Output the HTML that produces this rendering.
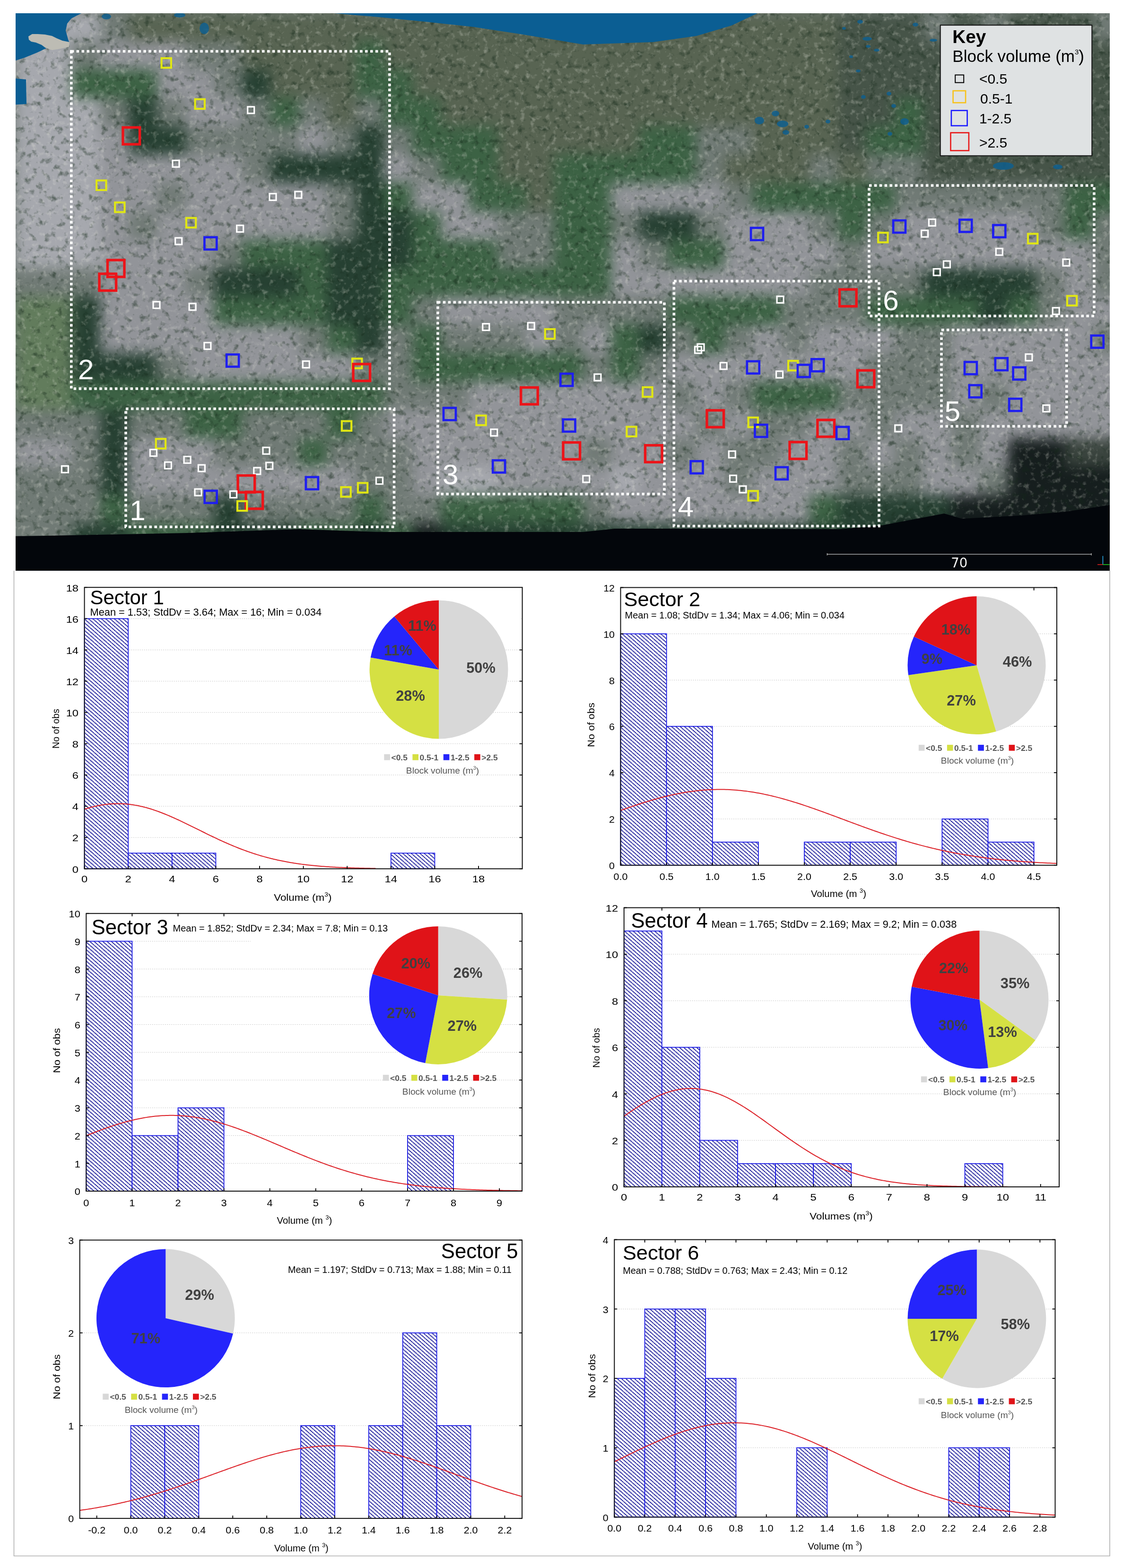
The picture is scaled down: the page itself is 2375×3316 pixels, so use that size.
<!DOCTYPE html>
<html><head><meta charset="utf-8"><title>Rockfall block volume by sector</title>
<style>
html,body{margin:0;padding:0;background:#fff;}
body{width:2375px;height:3316px;overflow:hidden;font-family:"Liberation Sans",Arial,sans-serif;}
svg{display:block;}
</style></head><body>
<svg width="2375" height="3316" viewBox="0 0 2375 3316" font-family="'Liberation Sans', Arial, Helvetica, sans-serif">
<defs>
<pattern id="hatch" patternUnits="userSpaceOnUse" width="9.1" height="8.0">
<path d="M-2.275 -2 L11.375 10 M-2.275 6 L2.275 10 M6.825 -2 L11.375 2" stroke="#00008e" stroke-width="2.0" stroke-dasharray="2.6 0.7"/>
</pattern>
<clipPath id="photoclip"><rect x="33" y="28" width="2314" height="1179"/></clipPath>
<filter id="tblur" x="20" y="15" width="2340" height="1205" filterUnits="userSpaceOnUse" color-interpolation-filters="sRGB">
<feGaussianBlur stdDeviation="14"/>
</filter>
<filter id="tdark" x="33" y="28" width="2314" height="1179" filterUnits="userSpaceOnUse" color-interpolation-filters="sRGB">
<feTurbulence type="fractalNoise" baseFrequency="0.075" numOctaves="3" seed="7"/>
<feColorMatrix type="matrix" values="0 0 0 0 0.08  0 0 0 0 0.16  0 0 0 0 0.1  -3.2 0 0 0 1.45"/>
</filter>
<filter id="tlight" x="33" y="28" width="2314" height="1179" filterUnits="userSpaceOnUse" color-interpolation-filters="sRGB">
<feTurbulence type="fractalNoise" baseFrequency="0.09" numOctaves="3" seed="19"/>
<feColorMatrix type="matrix" values="0 0 0 0 0.92  0 0 0 0 0.92  0 0 0 0 0.88  0 3.2 0 0 -1.75"/>
</filter>
</defs>
<rect x="0" y="0" width="2375" height="3316" fill="#fff"/>
<path d="M29.5 1207 L29.5 3290.5 L2347 3290.5 L2347 1207" fill="none" stroke="#b0b0b0" stroke-width="1.6"/>
<g clip-path="url(#photoclip)">
<rect x="33" y="28" width="2314" height="1179" fill="#707a75"/>
<g filter="url(#tblur)"><rect x="32" y="27" width="62" height="62" fill="#a6a8ae"/><rect x="92" y="27" width="62" height="62" fill="#a6a8ae"/><rect x="152" y="27" width="62" height="62" fill="#a6a8ae"/><rect x="212" y="27" width="62" height="62" fill="#707a75"/><rect x="272" y="27" width="62" height="62" fill="#586452"/><rect x="332" y="27" width="62" height="62" fill="#586452"/><rect x="392" y="27" width="62" height="62" fill="#586452"/><rect x="452" y="27" width="62" height="62" fill="#586452"/><rect x="512" y="27" width="62" height="62" fill="#586452"/><rect x="572" y="27" width="62" height="62" fill="#586452"/><rect x="632" y="27" width="62" height="62" fill="#586452"/><rect x="692" y="27" width="62" height="62" fill="#586452"/><rect x="752" y="27" width="62" height="62" fill="#586452"/><rect x="812" y="27" width="62" height="62" fill="#586452"/><rect x="872" y="27" width="62" height="62" fill="#586452"/><rect x="932" y="27" width="62" height="62" fill="#586452"/><rect x="992" y="27" width="62" height="62" fill="#586452"/><rect x="1052" y="27" width="62" height="62" fill="#586452"/><rect x="1112" y="27" width="62" height="62" fill="#586452"/><rect x="1172" y="27" width="62" height="62" fill="#586452"/><rect x="1232" y="27" width="62" height="62" fill="#586452"/><rect x="1292" y="27" width="62" height="62" fill="#586452"/><rect x="1352" y="27" width="62" height="62" fill="#586452"/><rect x="1412" y="27" width="62" height="62" fill="#586452"/><rect x="1472" y="27" width="62" height="62" fill="#586452"/><rect x="1532" y="27" width="62" height="62" fill="#586452"/><rect x="1592" y="27" width="62" height="62" fill="#586452"/><rect x="1652" y="27" width="62" height="62" fill="#586452"/><rect x="1712" y="27" width="62" height="62" fill="#586452"/><rect x="1772" y="27" width="62" height="62" fill="#465448"/><rect x="1832" y="27" width="62" height="62" fill="#465448"/><rect x="1892" y="27" width="62" height="62" fill="#465448"/><rect x="1952" y="27" width="62" height="62" fill="#707a75"/><rect x="2012" y="27" width="62" height="62" fill="#465448"/><rect x="2072" y="27" width="62" height="62" fill="#707a75"/><rect x="2132" y="27" width="62" height="62" fill="#465448"/><rect x="2192" y="27" width="62" height="62" fill="#465448"/><rect x="2252" y="27" width="62" height="62" fill="#465448"/><rect x="2312" y="27" width="62" height="62" fill="#707a75"/><rect x="32" y="87" width="62" height="62" fill="#a6a8ae"/><rect x="92" y="87" width="62" height="62" fill="#a6a8ae"/><rect x="152" y="87" width="62" height="62" fill="#707a75"/><rect x="212" y="87" width="62" height="62" fill="#929499"/><rect x="272" y="87" width="62" height="62" fill="#929499"/><rect x="332" y="87" width="62" height="62" fill="#929499"/><rect x="392" y="87" width="62" height="62" fill="#707a75"/><rect x="452" y="87" width="62" height="62" fill="#707a75"/><rect x="512" y="87" width="62" height="62" fill="#586452"/><rect x="572" y="87" width="62" height="62" fill="#586452"/><rect x="632" y="87" width="62" height="62" fill="#586452"/><rect x="692" y="87" width="62" height="62" fill="#586452"/><rect x="752" y="87" width="62" height="62" fill="#3c6244"/><rect x="812" y="87" width="62" height="62" fill="#586452"/><rect x="872" y="87" width="62" height="62" fill="#586452"/><rect x="932" y="87" width="62" height="62" fill="#586452"/><rect x="992" y="87" width="62" height="62" fill="#586452"/><rect x="1052" y="87" width="62" height="62" fill="#586452"/><rect x="1112" y="87" width="62" height="62" fill="#586452"/><rect x="1172" y="87" width="62" height="62" fill="#586452"/><rect x="1232" y="87" width="62" height="62" fill="#586452"/><rect x="1292" y="87" width="62" height="62" fill="#586452"/><rect x="1352" y="87" width="62" height="62" fill="#586452"/><rect x="1412" y="87" width="62" height="62" fill="#586452"/><rect x="1472" y="87" width="62" height="62" fill="#586452"/><rect x="1532" y="87" width="62" height="62" fill="#586452"/><rect x="1592" y="87" width="62" height="62" fill="#586452"/><rect x="1652" y="87" width="62" height="62" fill="#586452"/><rect x="1712" y="87" width="62" height="62" fill="#586452"/><rect x="1772" y="87" width="62" height="62" fill="#465448"/><rect x="1832" y="87" width="62" height="62" fill="#465448"/><rect x="1892" y="87" width="62" height="62" fill="#465448"/><rect x="1952" y="87" width="62" height="62" fill="#465448"/><rect x="2012" y="87" width="62" height="62" fill="#465448"/><rect x="2072" y="87" width="62" height="62" fill="#465448"/><rect x="2132" y="87" width="62" height="62" fill="#465448"/><rect x="2192" y="87" width="62" height="62" fill="#465448"/><rect x="2252" y="87" width="62" height="62" fill="#465448"/><rect x="2312" y="87" width="62" height="62" fill="#465448"/><rect x="32" y="147" width="62" height="62" fill="#a6a8ae"/><rect x="92" y="147" width="62" height="62" fill="#a6a8ae"/><rect x="152" y="147" width="62" height="62" fill="#3c6244"/><rect x="212" y="147" width="62" height="62" fill="#3c6244"/><rect x="272" y="147" width="62" height="62" fill="#3c6244"/><rect x="332" y="147" width="62" height="62" fill="#929499"/><rect x="392" y="147" width="62" height="62" fill="#929499"/><rect x="452" y="147" width="62" height="62" fill="#707a75"/><rect x="512" y="147" width="62" height="62" fill="#264032"/><rect x="572" y="147" width="62" height="62" fill="#586452"/><rect x="632" y="147" width="62" height="62" fill="#586452"/><rect x="692" y="147" width="62" height="62" fill="#586452"/><rect x="752" y="147" width="62" height="62" fill="#3c6244"/><rect x="812" y="147" width="62" height="62" fill="#3c6244"/><rect x="872" y="147" width="62" height="62" fill="#586452"/><rect x="932" y="147" width="62" height="62" fill="#586452"/><rect x="992" y="147" width="62" height="62" fill="#586452"/><rect x="1052" y="147" width="62" height="62" fill="#586452"/><rect x="1112" y="147" width="62" height="62" fill="#586452"/><rect x="1172" y="147" width="62" height="62" fill="#586452"/><rect x="1232" y="147" width="62" height="62" fill="#586452"/><rect x="1292" y="147" width="62" height="62" fill="#586452"/><rect x="1352" y="147" width="62" height="62" fill="#586452"/><rect x="1412" y="147" width="62" height="62" fill="#586452"/><rect x="1472" y="147" width="62" height="62" fill="#586452"/><rect x="1532" y="147" width="62" height="62" fill="#586452"/><rect x="1592" y="147" width="62" height="62" fill="#586452"/><rect x="1652" y="147" width="62" height="62" fill="#586452"/><rect x="1712" y="147" width="62" height="62" fill="#586452"/><rect x="1772" y="147" width="62" height="62" fill="#465448"/><rect x="1832" y="147" width="62" height="62" fill="#465448"/><rect x="1892" y="147" width="62" height="62" fill="#465448"/><rect x="1952" y="147" width="62" height="62" fill="#465448"/><rect x="2012" y="147" width="62" height="62" fill="#465448"/><rect x="2072" y="147" width="62" height="62" fill="#465448"/><rect x="2132" y="147" width="62" height="62" fill="#465448"/><rect x="2192" y="147" width="62" height="62" fill="#465448"/><rect x="2252" y="147" width="62" height="62" fill="#465448"/><rect x="2312" y="147" width="62" height="62" fill="#465448"/><rect x="32" y="207" width="62" height="62" fill="#a6a8ae"/><rect x="92" y="207" width="62" height="62" fill="#a6a8ae"/><rect x="152" y="207" width="62" height="62" fill="#a6a8ae"/><rect x="212" y="207" width="62" height="62" fill="#707a75"/><rect x="272" y="207" width="62" height="62" fill="#264032"/><rect x="332" y="207" width="62" height="62" fill="#707a75"/><rect x="392" y="207" width="62" height="62" fill="#929499"/><rect x="452" y="207" width="62" height="62" fill="#929499"/><rect x="512" y="207" width="62" height="62" fill="#707a75"/><rect x="572" y="207" width="62" height="62" fill="#3c6244"/><rect x="632" y="207" width="62" height="62" fill="#707a75"/><rect x="692" y="207" width="62" height="62" fill="#586452"/><rect x="752" y="207" width="62" height="62" fill="#707a75"/><rect x="812" y="207" width="62" height="62" fill="#3c6244"/><rect x="872" y="207" width="62" height="62" fill="#3c6244"/><rect x="932" y="207" width="62" height="62" fill="#586452"/><rect x="992" y="207" width="62" height="62" fill="#586452"/><rect x="1052" y="207" width="62" height="62" fill="#586452"/><rect x="1112" y="207" width="62" height="62" fill="#586452"/><rect x="1172" y="207" width="62" height="62" fill="#586452"/><rect x="1232" y="207" width="62" height="62" fill="#586452"/><rect x="1292" y="207" width="62" height="62" fill="#586452"/><rect x="1352" y="207" width="62" height="62" fill="#586452"/><rect x="1412" y="207" width="62" height="62" fill="#586452"/><rect x="1472" y="207" width="62" height="62" fill="#586452"/><rect x="1532" y="207" width="62" height="62" fill="#586452"/><rect x="1592" y="207" width="62" height="62" fill="#586452"/><rect x="1652" y="207" width="62" height="62" fill="#586452"/><rect x="1712" y="207" width="62" height="62" fill="#586452"/><rect x="1772" y="207" width="62" height="62" fill="#465448"/><rect x="1832" y="207" width="62" height="62" fill="#465448"/><rect x="1892" y="207" width="62" height="62" fill="#3c6244"/><rect x="1952" y="207" width="62" height="62" fill="#465448"/><rect x="2012" y="207" width="62" height="62" fill="#465448"/><rect x="2072" y="207" width="62" height="62" fill="#465448"/><rect x="2132" y="207" width="62" height="62" fill="#465448"/><rect x="2192" y="207" width="62" height="62" fill="#465448"/><rect x="2252" y="207" width="62" height="62" fill="#465448"/><rect x="2312" y="207" width="62" height="62" fill="#465448"/><rect x="32" y="267" width="62" height="62" fill="#a6a8ae"/><rect x="92" y="267" width="62" height="62" fill="#a6a8ae"/><rect x="152" y="267" width="62" height="62" fill="#a6a8ae"/><rect x="212" y="267" width="62" height="62" fill="#929499"/><rect x="272" y="267" width="62" height="62" fill="#264032"/><rect x="332" y="267" width="62" height="62" fill="#264032"/><rect x="392" y="267" width="62" height="62" fill="#707a75"/><rect x="452" y="267" width="62" height="62" fill="#707a75"/><rect x="512" y="267" width="62" height="62" fill="#707a75"/><rect x="572" y="267" width="62" height="62" fill="#707a75"/><rect x="632" y="267" width="62" height="62" fill="#929499"/><rect x="692" y="267" width="62" height="62" fill="#707a75"/><rect x="752" y="267" width="62" height="62" fill="#264032"/><rect x="812" y="267" width="62" height="62" fill="#707a75"/><rect x="872" y="267" width="62" height="62" fill="#3c6244"/><rect x="932" y="267" width="62" height="62" fill="#3c6244"/><rect x="992" y="267" width="62" height="62" fill="#3c6244"/><rect x="1052" y="267" width="62" height="62" fill="#586452"/><rect x="1112" y="267" width="62" height="62" fill="#586452"/><rect x="1172" y="267" width="62" height="62" fill="#586452"/><rect x="1232" y="267" width="62" height="62" fill="#586452"/><rect x="1292" y="267" width="62" height="62" fill="#586452"/><rect x="1352" y="267" width="62" height="62" fill="#3c6244"/><rect x="1412" y="267" width="62" height="62" fill="#3c6244"/><rect x="1472" y="267" width="62" height="62" fill="#707a75"/><rect x="1532" y="267" width="62" height="62" fill="#707a75"/><rect x="1592" y="267" width="62" height="62" fill="#586452"/><rect x="1652" y="267" width="62" height="62" fill="#586452"/><rect x="1712" y="267" width="62" height="62" fill="#586452"/><rect x="1772" y="267" width="62" height="62" fill="#465448"/><rect x="1832" y="267" width="62" height="62" fill="#3c6244"/><rect x="1892" y="267" width="62" height="62" fill="#3c6244"/><rect x="1952" y="267" width="62" height="62" fill="#465448"/><rect x="2012" y="267" width="62" height="62" fill="#465448"/><rect x="2072" y="267" width="62" height="62" fill="#465448"/><rect x="2132" y="267" width="62" height="62" fill="#465448"/><rect x="2192" y="267" width="62" height="62" fill="#465448"/><rect x="2252" y="267" width="62" height="62" fill="#465448"/><rect x="2312" y="267" width="62" height="62" fill="#465448"/><rect x="32" y="327" width="62" height="62" fill="#a6a8ae"/><rect x="92" y="327" width="62" height="62" fill="#a6a8ae"/><rect x="152" y="327" width="62" height="62" fill="#a6a8ae"/><rect x="212" y="327" width="62" height="62" fill="#929499"/><rect x="272" y="327" width="62" height="62" fill="#929499"/><rect x="332" y="327" width="62" height="62" fill="#929499"/><rect x="392" y="327" width="62" height="62" fill="#929499"/><rect x="452" y="327" width="62" height="62" fill="#929499"/><rect x="512" y="327" width="62" height="62" fill="#707a75"/><rect x="572" y="327" width="62" height="62" fill="#264032"/><rect x="632" y="327" width="62" height="62" fill="#264032"/><rect x="692" y="327" width="62" height="62" fill="#264032"/><rect x="752" y="327" width="62" height="62" fill="#264032"/><rect x="812" y="327" width="62" height="62" fill="#929499"/><rect x="872" y="327" width="62" height="62" fill="#707a75"/><rect x="932" y="327" width="62" height="62" fill="#3c6244"/><rect x="992" y="327" width="62" height="62" fill="#3c6244"/><rect x="1052" y="327" width="62" height="62" fill="#586452"/><rect x="1112" y="327" width="62" height="62" fill="#586452"/><rect x="1172" y="327" width="62" height="62" fill="#3c6244"/><rect x="1232" y="327" width="62" height="62" fill="#3c6244"/><rect x="1292" y="327" width="62" height="62" fill="#3c6244"/><rect x="1352" y="327" width="62" height="62" fill="#3c6244"/><rect x="1412" y="327" width="62" height="62" fill="#3c6244"/><rect x="1472" y="327" width="62" height="62" fill="#707a75"/><rect x="1532" y="327" width="62" height="62" fill="#586452"/><rect x="1592" y="327" width="62" height="62" fill="#586452"/><rect x="1652" y="327" width="62" height="62" fill="#586452"/><rect x="1712" y="327" width="62" height="62" fill="#707a75"/><rect x="1772" y="327" width="62" height="62" fill="#586452"/><rect x="1832" y="327" width="62" height="62" fill="#707a75"/><rect x="1892" y="327" width="62" height="62" fill="#707a75"/><rect x="1952" y="327" width="62" height="62" fill="#465448"/><rect x="2012" y="327" width="62" height="62" fill="#465448"/><rect x="2072" y="327" width="62" height="62" fill="#465448"/><rect x="2132" y="327" width="62" height="62" fill="#465448"/><rect x="2192" y="327" width="62" height="62" fill="#465448"/><rect x="2252" y="327" width="62" height="62" fill="#465448"/><rect x="2312" y="327" width="62" height="62" fill="#465448"/><rect x="32" y="387" width="62" height="62" fill="#a6a8ae"/><rect x="92" y="387" width="62" height="62" fill="#a6a8ae"/><rect x="152" y="387" width="62" height="62" fill="#a6a8ae"/><rect x="212" y="387" width="62" height="62" fill="#929499"/><rect x="272" y="387" width="62" height="62" fill="#929499"/><rect x="332" y="387" width="62" height="62" fill="#707a75"/><rect x="392" y="387" width="62" height="62" fill="#929499"/><rect x="452" y="387" width="62" height="62" fill="#929499"/><rect x="512" y="387" width="62" height="62" fill="#929499"/><rect x="572" y="387" width="62" height="62" fill="#929499"/><rect x="632" y="387" width="62" height="62" fill="#929499"/><rect x="692" y="387" width="62" height="62" fill="#707a75"/><rect x="752" y="387" width="62" height="62" fill="#264032"/><rect x="812" y="387" width="62" height="62" fill="#3c6244"/><rect x="872" y="387" width="62" height="62" fill="#929499"/><rect x="932" y="387" width="62" height="62" fill="#929499"/><rect x="992" y="387" width="62" height="62" fill="#3c6244"/><rect x="1052" y="387" width="62" height="62" fill="#3c6244"/><rect x="1112" y="387" width="62" height="62" fill="#586452"/><rect x="1172" y="387" width="62" height="62" fill="#3c6244"/><rect x="1232" y="387" width="62" height="62" fill="#3c6244"/><rect x="1292" y="387" width="62" height="62" fill="#929499"/><rect x="1352" y="387" width="62" height="62" fill="#929499"/><rect x="1412" y="387" width="62" height="62" fill="#929499"/><rect x="1472" y="387" width="62" height="62" fill="#929499"/><rect x="1532" y="387" width="62" height="62" fill="#707a75"/><rect x="1592" y="387" width="62" height="62" fill="#3c6244"/><rect x="1652" y="387" width="62" height="62" fill="#3c6244"/><rect x="1712" y="387" width="62" height="62" fill="#3c6244"/><rect x="1772" y="387" width="62" height="62" fill="#3c6244"/><rect x="1832" y="387" width="62" height="62" fill="#3c6244"/><rect x="1892" y="387" width="62" height="62" fill="#707a75"/><rect x="1952" y="387" width="62" height="62" fill="#707a75"/><rect x="2012" y="387" width="62" height="62" fill="#707a75"/><rect x="2072" y="387" width="62" height="62" fill="#707a75"/><rect x="2132" y="387" width="62" height="62" fill="#707a75"/><rect x="2192" y="387" width="62" height="62" fill="#707a75"/><rect x="2252" y="387" width="62" height="62" fill="#3c6244"/><rect x="2312" y="387" width="62" height="62" fill="#3c6244"/><rect x="32" y="447" width="62" height="62" fill="#a6a8ae"/><rect x="92" y="447" width="62" height="62" fill="#a6a8ae"/><rect x="152" y="447" width="62" height="62" fill="#a6a8ae"/><rect x="212" y="447" width="62" height="62" fill="#929499"/><rect x="272" y="447" width="62" height="62" fill="#707a75"/><rect x="332" y="447" width="62" height="62" fill="#929499"/><rect x="392" y="447" width="62" height="62" fill="#929499"/><rect x="452" y="447" width="62" height="62" fill="#929499"/><rect x="512" y="447" width="62" height="62" fill="#929499"/><rect x="572" y="447" width="62" height="62" fill="#929499"/><rect x="632" y="447" width="62" height="62" fill="#929499"/><rect x="692" y="447" width="62" height="62" fill="#707a75"/><rect x="752" y="447" width="62" height="62" fill="#264032"/><rect x="812" y="447" width="62" height="62" fill="#264032"/><rect x="872" y="447" width="62" height="62" fill="#3c6244"/><rect x="932" y="447" width="62" height="62" fill="#929499"/><rect x="992" y="447" width="62" height="62" fill="#929499"/><rect x="1052" y="447" width="62" height="62" fill="#707a75"/><rect x="1112" y="447" width="62" height="62" fill="#707a75"/><rect x="1172" y="447" width="62" height="62" fill="#3c6244"/><rect x="1232" y="447" width="62" height="62" fill="#3c6244"/><rect x="1292" y="447" width="62" height="62" fill="#707a75"/><rect x="1352" y="447" width="62" height="62" fill="#264032"/><rect x="1412" y="447" width="62" height="62" fill="#264032"/><rect x="1472" y="447" width="62" height="62" fill="#707a75"/><rect x="1532" y="447" width="62" height="62" fill="#929499"/><rect x="1592" y="447" width="62" height="62" fill="#929499"/><rect x="1652" y="447" width="62" height="62" fill="#929499"/><rect x="1712" y="447" width="62" height="62" fill="#707a75"/><rect x="1772" y="447" width="62" height="62" fill="#3c6244"/><rect x="1832" y="447" width="62" height="62" fill="#707a75"/><rect x="1892" y="447" width="62" height="62" fill="#929499"/><rect x="1952" y="447" width="62" height="62" fill="#929499"/><rect x="2012" y="447" width="62" height="62" fill="#929499"/><rect x="2072" y="447" width="62" height="62" fill="#929499"/><rect x="2132" y="447" width="62" height="62" fill="#929499"/><rect x="2192" y="447" width="62" height="62" fill="#707a75"/><rect x="2252" y="447" width="62" height="62" fill="#3c6244"/><rect x="2312" y="447" width="62" height="62" fill="#707a75"/><rect x="32" y="507" width="62" height="62" fill="#a6a8ae"/><rect x="92" y="507" width="62" height="62" fill="#a6a8ae"/><rect x="152" y="507" width="62" height="62" fill="#a6a8ae"/><rect x="212" y="507" width="62" height="62" fill="#929499"/><rect x="272" y="507" width="62" height="62" fill="#929499"/><rect x="332" y="507" width="62" height="62" fill="#929499"/><rect x="392" y="507" width="62" height="62" fill="#929499"/><rect x="452" y="507" width="62" height="62" fill="#707a75"/><rect x="512" y="507" width="62" height="62" fill="#3c6244"/><rect x="572" y="507" width="62" height="62" fill="#3c6244"/><rect x="632" y="507" width="62" height="62" fill="#3c6244"/><rect x="692" y="507" width="62" height="62" fill="#264032"/><rect x="752" y="507" width="62" height="62" fill="#264032"/><rect x="812" y="507" width="62" height="62" fill="#264032"/><rect x="872" y="507" width="62" height="62" fill="#3c6244"/><rect x="932" y="507" width="62" height="62" fill="#3c6244"/><rect x="992" y="507" width="62" height="62" fill="#3c6244"/><rect x="1052" y="507" width="62" height="62" fill="#707a75"/><rect x="1112" y="507" width="62" height="62" fill="#707a75"/><rect x="1172" y="507" width="62" height="62" fill="#3c6244"/><rect x="1232" y="507" width="62" height="62" fill="#3c6244"/><rect x="1292" y="507" width="62" height="62" fill="#929499"/><rect x="1352" y="507" width="62" height="62" fill="#707a75"/><rect x="1412" y="507" width="62" height="62" fill="#3c6244"/><rect x="1472" y="507" width="62" height="62" fill="#3c6244"/><rect x="1532" y="507" width="62" height="62" fill="#929499"/><rect x="1592" y="507" width="62" height="62" fill="#929499"/><rect x="1652" y="507" width="62" height="62" fill="#929499"/><rect x="1712" y="507" width="62" height="62" fill="#929499"/><rect x="1772" y="507" width="62" height="62" fill="#707a75"/><rect x="1832" y="507" width="62" height="62" fill="#929499"/><rect x="1892" y="507" width="62" height="62" fill="#929499"/><rect x="1952" y="507" width="62" height="62" fill="#929499"/><rect x="2012" y="507" width="62" height="62" fill="#929499"/><rect x="2072" y="507" width="62" height="62" fill="#929499"/><rect x="2132" y="507" width="62" height="62" fill="#929499"/><rect x="2192" y="507" width="62" height="62" fill="#929499"/><rect x="2252" y="507" width="62" height="62" fill="#929499"/><rect x="2312" y="507" width="62" height="62" fill="#707a75"/><rect x="32" y="567" width="62" height="62" fill="#707a75"/><rect x="92" y="567" width="62" height="62" fill="#707a75"/><rect x="152" y="567" width="62" height="62" fill="#707a75"/><rect x="212" y="567" width="62" height="62" fill="#929499"/><rect x="272" y="567" width="62" height="62" fill="#929499"/><rect x="332" y="567" width="62" height="62" fill="#929499"/><rect x="392" y="567" width="62" height="62" fill="#707a75"/><rect x="452" y="567" width="62" height="62" fill="#264032"/><rect x="512" y="567" width="62" height="62" fill="#264032"/><rect x="572" y="567" width="62" height="62" fill="#264032"/><rect x="632" y="567" width="62" height="62" fill="#3c6244"/><rect x="692" y="567" width="62" height="62" fill="#264032"/><rect x="752" y="567" width="62" height="62" fill="#264032"/><rect x="812" y="567" width="62" height="62" fill="#3c6244"/><rect x="872" y="567" width="62" height="62" fill="#3c6244"/><rect x="932" y="567" width="62" height="62" fill="#3c6244"/><rect x="992" y="567" width="62" height="62" fill="#3c6244"/><rect x="1052" y="567" width="62" height="62" fill="#3c6244"/><rect x="1112" y="567" width="62" height="62" fill="#3c6244"/><rect x="1172" y="567" width="62" height="62" fill="#3c6244"/><rect x="1232" y="567" width="62" height="62" fill="#3c6244"/><rect x="1292" y="567" width="62" height="62" fill="#929499"/><rect x="1352" y="567" width="62" height="62" fill="#929499"/><rect x="1412" y="567" width="62" height="62" fill="#929499"/><rect x="1472" y="567" width="62" height="62" fill="#929499"/><rect x="1532" y="567" width="62" height="62" fill="#929499"/><rect x="1592" y="567" width="62" height="62" fill="#929499"/><rect x="1652" y="567" width="62" height="62" fill="#929499"/><rect x="1712" y="567" width="62" height="62" fill="#707a75"/><rect x="1772" y="567" width="62" height="62" fill="#707a75"/><rect x="1832" y="567" width="62" height="62" fill="#707a75"/><rect x="1892" y="567" width="62" height="62" fill="#707a75"/><rect x="1952" y="567" width="62" height="62" fill="#264032"/><rect x="2012" y="567" width="62" height="62" fill="#264032"/><rect x="2072" y="567" width="62" height="62" fill="#264032"/><rect x="2132" y="567" width="62" height="62" fill="#264032"/><rect x="2192" y="567" width="62" height="62" fill="#707a75"/><rect x="2252" y="567" width="62" height="62" fill="#929499"/><rect x="2312" y="567" width="62" height="62" fill="#707a75"/><rect x="32" y="627" width="62" height="62" fill="#627c5c"/><rect x="92" y="627" width="62" height="62" fill="#627c5c"/><rect x="152" y="627" width="62" height="62" fill="#264032"/><rect x="212" y="627" width="62" height="62" fill="#929499"/><rect x="272" y="627" width="62" height="62" fill="#929499"/><rect x="332" y="627" width="62" height="62" fill="#929499"/><rect x="392" y="627" width="62" height="62" fill="#929499"/><rect x="452" y="627" width="62" height="62" fill="#3c6244"/><rect x="512" y="627" width="62" height="62" fill="#3c6244"/><rect x="572" y="627" width="62" height="62" fill="#3c6244"/><rect x="632" y="627" width="62" height="62" fill="#3c6244"/><rect x="692" y="627" width="62" height="62" fill="#264032"/><rect x="752" y="627" width="62" height="62" fill="#264032"/><rect x="812" y="627" width="62" height="62" fill="#3c6244"/><rect x="872" y="627" width="62" height="62" fill="#707a75"/><rect x="932" y="627" width="62" height="62" fill="#929499"/><rect x="992" y="627" width="62" height="62" fill="#929499"/><rect x="1052" y="627" width="62" height="62" fill="#929499"/><rect x="1112" y="627" width="62" height="62" fill="#929499"/><rect x="1172" y="627" width="62" height="62" fill="#707a75"/><rect x="1232" y="627" width="62" height="62" fill="#707a75"/><rect x="1292" y="627" width="62" height="62" fill="#707a75"/><rect x="1352" y="627" width="62" height="62" fill="#707a75"/><rect x="1412" y="627" width="62" height="62" fill="#3c6244"/><rect x="1472" y="627" width="62" height="62" fill="#3c6244"/><rect x="1532" y="627" width="62" height="62" fill="#3c6244"/><rect x="1592" y="627" width="62" height="62" fill="#3c6244"/><rect x="1652" y="627" width="62" height="62" fill="#707a75"/><rect x="1712" y="627" width="62" height="62" fill="#707a75"/><rect x="1772" y="627" width="62" height="62" fill="#707a75"/><rect x="1832" y="627" width="62" height="62" fill="#3c6244"/><rect x="1892" y="627" width="62" height="62" fill="#3c6244"/><rect x="1952" y="627" width="62" height="62" fill="#3c6244"/><rect x="2012" y="627" width="62" height="62" fill="#3c6244"/><rect x="2072" y="627" width="62" height="62" fill="#264032"/><rect x="2132" y="627" width="62" height="62" fill="#3c6244"/><rect x="2192" y="627" width="62" height="62" fill="#707a75"/><rect x="2252" y="627" width="62" height="62" fill="#929499"/><rect x="2312" y="627" width="62" height="62" fill="#929499"/><rect x="32" y="687" width="62" height="62" fill="#627c5c"/><rect x="92" y="687" width="62" height="62" fill="#627c5c"/><rect x="152" y="687" width="62" height="62" fill="#264032"/><rect x="212" y="687" width="62" height="62" fill="#929499"/><rect x="272" y="687" width="62" height="62" fill="#929499"/><rect x="332" y="687" width="62" height="62" fill="#929499"/><rect x="392" y="687" width="62" height="62" fill="#929499"/><rect x="452" y="687" width="62" height="62" fill="#929499"/><rect x="512" y="687" width="62" height="62" fill="#929499"/><rect x="572" y="687" width="62" height="62" fill="#929499"/><rect x="632" y="687" width="62" height="62" fill="#707a75"/><rect x="692" y="687" width="62" height="62" fill="#3c6244"/><rect x="752" y="687" width="62" height="62" fill="#264032"/><rect x="812" y="687" width="62" height="62" fill="#707a75"/><rect x="872" y="687" width="62" height="62" fill="#3c6244"/><rect x="932" y="687" width="62" height="62" fill="#707a75"/><rect x="992" y="687" width="62" height="62" fill="#707a75"/><rect x="1052" y="687" width="62" height="62" fill="#707a75"/><rect x="1112" y="687" width="62" height="62" fill="#929499"/><rect x="1172" y="687" width="62" height="62" fill="#707a75"/><rect x="1232" y="687" width="62" height="62" fill="#929499"/><rect x="1292" y="687" width="62" height="62" fill="#3c6244"/><rect x="1352" y="687" width="62" height="62" fill="#264032"/><rect x="1412" y="687" width="62" height="62" fill="#707a75"/><rect x="1472" y="687" width="62" height="62" fill="#3c6244"/><rect x="1532" y="687" width="62" height="62" fill="#707a75"/><rect x="1592" y="687" width="62" height="62" fill="#929499"/><rect x="1652" y="687" width="62" height="62" fill="#707a75"/><rect x="1712" y="687" width="62" height="62" fill="#929499"/><rect x="1772" y="687" width="62" height="62" fill="#929499"/><rect x="1832" y="687" width="62" height="62" fill="#929499"/><rect x="1892" y="687" width="62" height="62" fill="#707a75"/><rect x="1952" y="687" width="62" height="62" fill="#707a75"/><rect x="2012" y="687" width="62" height="62" fill="#929499"/><rect x="2072" y="687" width="62" height="62" fill="#929499"/><rect x="2132" y="687" width="62" height="62" fill="#929499"/><rect x="2192" y="687" width="62" height="62" fill="#929499"/><rect x="2252" y="687" width="62" height="62" fill="#929499"/><rect x="2312" y="687" width="62" height="62" fill="#707a75"/><rect x="32" y="747" width="62" height="62" fill="#627c5c"/><rect x="92" y="747" width="62" height="62" fill="#627c5c"/><rect x="152" y="747" width="62" height="62" fill="#264032"/><rect x="212" y="747" width="62" height="62" fill="#264032"/><rect x="272" y="747" width="62" height="62" fill="#264032"/><rect x="332" y="747" width="62" height="62" fill="#707a75"/><rect x="392" y="747" width="62" height="62" fill="#929499"/><rect x="452" y="747" width="62" height="62" fill="#929499"/><rect x="512" y="747" width="62" height="62" fill="#929499"/><rect x="572" y="747" width="62" height="62" fill="#929499"/><rect x="632" y="747" width="62" height="62" fill="#929499"/><rect x="692" y="747" width="62" height="62" fill="#929499"/><rect x="752" y="747" width="62" height="62" fill="#707a75"/><rect x="812" y="747" width="62" height="62" fill="#707a75"/><rect x="872" y="747" width="62" height="62" fill="#3c6244"/><rect x="932" y="747" width="62" height="62" fill="#3c6244"/><rect x="992" y="747" width="62" height="62" fill="#3c6244"/><rect x="1052" y="747" width="62" height="62" fill="#3c6244"/><rect x="1112" y="747" width="62" height="62" fill="#3c6244"/><rect x="1172" y="747" width="62" height="62" fill="#3c6244"/><rect x="1232" y="747" width="62" height="62" fill="#707a75"/><rect x="1292" y="747" width="62" height="62" fill="#3c6244"/><rect x="1352" y="747" width="62" height="62" fill="#707a75"/><rect x="1412" y="747" width="62" height="62" fill="#929499"/><rect x="1472" y="747" width="62" height="62" fill="#929499"/><rect x="1532" y="747" width="62" height="62" fill="#929499"/><rect x="1592" y="747" width="62" height="62" fill="#929499"/><rect x="1652" y="747" width="62" height="62" fill="#929499"/><rect x="1712" y="747" width="62" height="62" fill="#929499"/><rect x="1772" y="747" width="62" height="62" fill="#929499"/><rect x="1832" y="747" width="62" height="62" fill="#707a75"/><rect x="1892" y="747" width="62" height="62" fill="#707a75"/><rect x="1952" y="747" width="62" height="62" fill="#707a75"/><rect x="2012" y="747" width="62" height="62" fill="#929499"/><rect x="2072" y="747" width="62" height="62" fill="#929499"/><rect x="2132" y="747" width="62" height="62" fill="#929499"/><rect x="2192" y="747" width="62" height="62" fill="#929499"/><rect x="2252" y="747" width="62" height="62" fill="#929499"/><rect x="2312" y="747" width="62" height="62" fill="#929499"/><rect x="32" y="807" width="62" height="62" fill="#627c5c"/><rect x="92" y="807" width="62" height="62" fill="#627c5c"/><rect x="152" y="807" width="62" height="62" fill="#3c6244"/><rect x="212" y="807" width="62" height="62" fill="#3c6244"/><rect x="272" y="807" width="62" height="62" fill="#3c6244"/><rect x="332" y="807" width="62" height="62" fill="#3c6244"/><rect x="392" y="807" width="62" height="62" fill="#3c6244"/><rect x="452" y="807" width="62" height="62" fill="#3c6244"/><rect x="512" y="807" width="62" height="62" fill="#3c6244"/><rect x="572" y="807" width="62" height="62" fill="#3c6244"/><rect x="632" y="807" width="62" height="62" fill="#3c6244"/><rect x="692" y="807" width="62" height="62" fill="#3c6244"/><rect x="752" y="807" width="62" height="62" fill="#3c6244"/><rect x="812" y="807" width="62" height="62" fill="#707a75"/><rect x="872" y="807" width="62" height="62" fill="#707a75"/><rect x="932" y="807" width="62" height="62" fill="#707a75"/><rect x="992" y="807" width="62" height="62" fill="#929499"/><rect x="1052" y="807" width="62" height="62" fill="#929499"/><rect x="1112" y="807" width="62" height="62" fill="#929499"/><rect x="1172" y="807" width="62" height="62" fill="#929499"/><rect x="1232" y="807" width="62" height="62" fill="#929499"/><rect x="1292" y="807" width="62" height="62" fill="#929499"/><rect x="1352" y="807" width="62" height="62" fill="#929499"/><rect x="1412" y="807" width="62" height="62" fill="#707a75"/><rect x="1472" y="807" width="62" height="62" fill="#929499"/><rect x="1532" y="807" width="62" height="62" fill="#707a75"/><rect x="1592" y="807" width="62" height="62" fill="#3c6244"/><rect x="1652" y="807" width="62" height="62" fill="#3c6244"/><rect x="1712" y="807" width="62" height="62" fill="#3c6244"/><rect x="1772" y="807" width="62" height="62" fill="#707a75"/><rect x="1832" y="807" width="62" height="62" fill="#707a75"/><rect x="1892" y="807" width="62" height="62" fill="#707a75"/><rect x="1952" y="807" width="62" height="62" fill="#707a75"/><rect x="2012" y="807" width="62" height="62" fill="#929499"/><rect x="2072" y="807" width="62" height="62" fill="#707a75"/><rect x="2132" y="807" width="62" height="62" fill="#929499"/><rect x="2192" y="807" width="62" height="62" fill="#929499"/><rect x="2252" y="807" width="62" height="62" fill="#929499"/><rect x="2312" y="807" width="62" height="62" fill="#929499"/><rect x="32" y="867" width="62" height="62" fill="#707a75"/><rect x="92" y="867" width="62" height="62" fill="#707a75"/><rect x="152" y="867" width="62" height="62" fill="#707a75"/><rect x="212" y="867" width="62" height="62" fill="#264032"/><rect x="272" y="867" width="62" height="62" fill="#707a75"/><rect x="332" y="867" width="62" height="62" fill="#707a75"/><rect x="392" y="867" width="62" height="62" fill="#3c6244"/><rect x="452" y="867" width="62" height="62" fill="#3c6244"/><rect x="512" y="867" width="62" height="62" fill="#707a75"/><rect x="572" y="867" width="62" height="62" fill="#707a75"/><rect x="632" y="867" width="62" height="62" fill="#707a75"/><rect x="692" y="867" width="62" height="62" fill="#3c6244"/><rect x="752" y="867" width="62" height="62" fill="#707a75"/><rect x="812" y="867" width="62" height="62" fill="#929499"/><rect x="872" y="867" width="62" height="62" fill="#929499"/><rect x="932" y="867" width="62" height="62" fill="#929499"/><rect x="992" y="867" width="62" height="62" fill="#929499"/><rect x="1052" y="867" width="62" height="62" fill="#929499"/><rect x="1112" y="867" width="62" height="62" fill="#929499"/><rect x="1172" y="867" width="62" height="62" fill="#929499"/><rect x="1232" y="867" width="62" height="62" fill="#929499"/><rect x="1292" y="867" width="62" height="62" fill="#929499"/><rect x="1352" y="867" width="62" height="62" fill="#929499"/><rect x="1412" y="867" width="62" height="62" fill="#929499"/><rect x="1472" y="867" width="62" height="62" fill="#707a75"/><rect x="1532" y="867" width="62" height="62" fill="#929499"/><rect x="1592" y="867" width="62" height="62" fill="#707a75"/><rect x="1652" y="867" width="62" height="62" fill="#707a75"/><rect x="1712" y="867" width="62" height="62" fill="#929499"/><rect x="1772" y="867" width="62" height="62" fill="#929499"/><rect x="1832" y="867" width="62" height="62" fill="#707a75"/><rect x="1892" y="867" width="62" height="62" fill="#929499"/><rect x="1952" y="867" width="62" height="62" fill="#929499"/><rect x="2012" y="867" width="62" height="62" fill="#707a75"/><rect x="2072" y="867" width="62" height="62" fill="#929499"/><rect x="2132" y="867" width="62" height="62" fill="#929499"/><rect x="2192" y="867" width="62" height="62" fill="#929499"/><rect x="2252" y="867" width="62" height="62" fill="#929499"/><rect x="2312" y="867" width="62" height="62" fill="#929499"/><rect x="32" y="927" width="62" height="62" fill="#929499"/><rect x="92" y="927" width="62" height="62" fill="#929499"/><rect x="152" y="927" width="62" height="62" fill="#707a75"/><rect x="212" y="927" width="62" height="62" fill="#264032"/><rect x="272" y="927" width="62" height="62" fill="#929499"/><rect x="332" y="927" width="62" height="62" fill="#929499"/><rect x="392" y="927" width="62" height="62" fill="#929499"/><rect x="452" y="927" width="62" height="62" fill="#707a75"/><rect x="512" y="927" width="62" height="62" fill="#707a75"/><rect x="572" y="927" width="62" height="62" fill="#707a75"/><rect x="632" y="927" width="62" height="62" fill="#3c6244"/><rect x="692" y="927" width="62" height="62" fill="#707a75"/><rect x="752" y="927" width="62" height="62" fill="#707a75"/><rect x="812" y="927" width="62" height="62" fill="#707a75"/><rect x="872" y="927" width="62" height="62" fill="#929499"/><rect x="932" y="927" width="62" height="62" fill="#929499"/><rect x="992" y="927" width="62" height="62" fill="#929499"/><rect x="1052" y="927" width="62" height="62" fill="#929499"/><rect x="1112" y="927" width="62" height="62" fill="#929499"/><rect x="1172" y="927" width="62" height="62" fill="#929499"/><rect x="1232" y="927" width="62" height="62" fill="#707a75"/><rect x="1292" y="927" width="62" height="62" fill="#929499"/><rect x="1352" y="927" width="62" height="62" fill="#929499"/><rect x="1412" y="927" width="62" height="62" fill="#707a75"/><rect x="1472" y="927" width="62" height="62" fill="#929499"/><rect x="1532" y="927" width="62" height="62" fill="#707a75"/><rect x="1592" y="927" width="62" height="62" fill="#707a75"/><rect x="1652" y="927" width="62" height="62" fill="#929499"/><rect x="1712" y="927" width="62" height="62" fill="#929499"/><rect x="1772" y="927" width="62" height="62" fill="#707a75"/><rect x="1832" y="927" width="62" height="62" fill="#929499"/><rect x="1892" y="927" width="62" height="62" fill="#707a75"/><rect x="1952" y="927" width="62" height="62" fill="#929499"/><rect x="2012" y="927" width="62" height="62" fill="#707a75"/><rect x="2072" y="927" width="62" height="62" fill="#929499"/><rect x="2132" y="927" width="62" height="62" fill="#161e1e"/><rect x="2192" y="927" width="62" height="62" fill="#161e1e"/><rect x="2252" y="927" width="62" height="62" fill="#3a443e"/><rect x="2312" y="927" width="62" height="62" fill="#3a443e"/><rect x="32" y="987" width="62" height="62" fill="#707a75"/><rect x="92" y="987" width="62" height="62" fill="#707a75"/><rect x="152" y="987" width="62" height="62" fill="#707a75"/><rect x="212" y="987" width="62" height="62" fill="#264032"/><rect x="272" y="987" width="62" height="62" fill="#929499"/><rect x="332" y="987" width="62" height="62" fill="#929499"/><rect x="392" y="987" width="62" height="62" fill="#929499"/><rect x="452" y="987" width="62" height="62" fill="#929499"/><rect x="512" y="987" width="62" height="62" fill="#929499"/><rect x="572" y="987" width="62" height="62" fill="#929499"/><rect x="632" y="987" width="62" height="62" fill="#929499"/><rect x="692" y="987" width="62" height="62" fill="#929499"/><rect x="752" y="987" width="62" height="62" fill="#707a75"/><rect x="812" y="987" width="62" height="62" fill="#707a75"/><rect x="872" y="987" width="62" height="62" fill="#929499"/><rect x="932" y="987" width="62" height="62" fill="#a6a8ae"/><rect x="992" y="987" width="62" height="62" fill="#a6a8ae"/><rect x="1052" y="987" width="62" height="62" fill="#929499"/><rect x="1112" y="987" width="62" height="62" fill="#929499"/><rect x="1172" y="987" width="62" height="62" fill="#929499"/><rect x="1232" y="987" width="62" height="62" fill="#929499"/><rect x="1292" y="987" width="62" height="62" fill="#a6a8ae"/><rect x="1352" y="987" width="62" height="62" fill="#929499"/><rect x="1412" y="987" width="62" height="62" fill="#929499"/><rect x="1472" y="987" width="62" height="62" fill="#929499"/><rect x="1532" y="987" width="62" height="62" fill="#707a75"/><rect x="1592" y="987" width="62" height="62" fill="#929499"/><rect x="1652" y="987" width="62" height="62" fill="#929499"/><rect x="1712" y="987" width="62" height="62" fill="#929499"/><rect x="1772" y="987" width="62" height="62" fill="#707a75"/><rect x="1832" y="987" width="62" height="62" fill="#707a75"/><rect x="1892" y="987" width="62" height="62" fill="#707a75"/><rect x="1952" y="987" width="62" height="62" fill="#929499"/><rect x="2012" y="987" width="62" height="62" fill="#929499"/><rect x="2072" y="987" width="62" height="62" fill="#707a75"/><rect x="2132" y="987" width="62" height="62" fill="#161e1e"/><rect x="2192" y="987" width="62" height="62" fill="#161e1e"/><rect x="2252" y="987" width="62" height="62" fill="#161e1e"/><rect x="2312" y="987" width="62" height="62" fill="#161e1e"/><rect x="32" y="1047" width="62" height="62" fill="#707a75"/><rect x="92" y="1047" width="62" height="62" fill="#707a75"/><rect x="152" y="1047" width="62" height="62" fill="#707a75"/><rect x="212" y="1047" width="62" height="62" fill="#3c6244"/><rect x="272" y="1047" width="62" height="62" fill="#707a75"/><rect x="332" y="1047" width="62" height="62" fill="#707a75"/><rect x="392" y="1047" width="62" height="62" fill="#707a75"/><rect x="452" y="1047" width="62" height="62" fill="#264032"/><rect x="512" y="1047" width="62" height="62" fill="#707a75"/><rect x="572" y="1047" width="62" height="62" fill="#707a75"/><rect x="632" y="1047" width="62" height="62" fill="#707a75"/><rect x="692" y="1047" width="62" height="62" fill="#707a75"/><rect x="752" y="1047" width="62" height="62" fill="#3c6244"/><rect x="812" y="1047" width="62" height="62" fill="#707a75"/><rect x="872" y="1047" width="62" height="62" fill="#707a75"/><rect x="932" y="1047" width="62" height="62" fill="#3c6244"/><rect x="992" y="1047" width="62" height="62" fill="#3c6244"/><rect x="1052" y="1047" width="62" height="62" fill="#3c6244"/><rect x="1112" y="1047" width="62" height="62" fill="#3c6244"/><rect x="1172" y="1047" width="62" height="62" fill="#3c6244"/><rect x="1232" y="1047" width="62" height="62" fill="#707a75"/><rect x="1292" y="1047" width="62" height="62" fill="#929499"/><rect x="1352" y="1047" width="62" height="62" fill="#929499"/><rect x="1412" y="1047" width="62" height="62" fill="#929499"/><rect x="1472" y="1047" width="62" height="62" fill="#929499"/><rect x="1532" y="1047" width="62" height="62" fill="#929499"/><rect x="1592" y="1047" width="62" height="62" fill="#929499"/><rect x="1652" y="1047" width="62" height="62" fill="#929499"/><rect x="1712" y="1047" width="62" height="62" fill="#3c6244"/><rect x="1772" y="1047" width="62" height="62" fill="#264032"/><rect x="1832" y="1047" width="62" height="62" fill="#264032"/><rect x="1892" y="1047" width="62" height="62" fill="#264032"/><rect x="1952" y="1047" width="62" height="62" fill="#264032"/><rect x="2012" y="1047" width="62" height="62" fill="#161e1e"/><rect x="2072" y="1047" width="62" height="62" fill="#161e1e"/><rect x="2132" y="1047" width="62" height="62" fill="#161e1e"/><rect x="2192" y="1047" width="62" height="62" fill="#161e1e"/><rect x="2252" y="1047" width="62" height="62" fill="#161e1e"/><rect x="2312" y="1047" width="62" height="62" fill="#161e1e"/><rect x="32" y="1107" width="62" height="62" fill="#707a75"/><rect x="92" y="1107" width="62" height="62" fill="#707a75"/><rect x="152" y="1107" width="62" height="62" fill="#264032"/><rect x="212" y="1107" width="62" height="62" fill="#264032"/><rect x="272" y="1107" width="62" height="62" fill="#3c6244"/><rect x="332" y="1107" width="62" height="62" fill="#3c6244"/><rect x="392" y="1107" width="62" height="62" fill="#3c6244"/><rect x="452" y="1107" width="62" height="62" fill="#264032"/><rect x="512" y="1107" width="62" height="62" fill="#264032"/><rect x="572" y="1107" width="62" height="62" fill="#264032"/><rect x="632" y="1107" width="62" height="62" fill="#3c6244"/><rect x="692" y="1107" width="62" height="62" fill="#3c6244"/><rect x="752" y="1107" width="62" height="62" fill="#264032"/><rect x="812" y="1107" width="62" height="62" fill="#3c6244"/><rect x="872" y="1107" width="62" height="62" fill="#161e1e"/><rect x="932" y="1107" width="62" height="62" fill="#264032"/><rect x="992" y="1107" width="62" height="62" fill="#264032"/><rect x="1052" y="1107" width="62" height="62" fill="#264032"/><rect x="1112" y="1107" width="62" height="62" fill="#264032"/><rect x="1172" y="1107" width="62" height="62" fill="#264032"/><rect x="1232" y="1107" width="62" height="62" fill="#264032"/><rect x="1292" y="1107" width="62" height="62" fill="#264032"/><rect x="1352" y="1107" width="62" height="62" fill="#264032"/><rect x="1412" y="1107" width="62" height="62" fill="#264032"/><rect x="1472" y="1107" width="62" height="62" fill="#264032"/><rect x="1532" y="1107" width="62" height="62" fill="#264032"/><rect x="1592" y="1107" width="62" height="62" fill="#264032"/><rect x="1652" y="1107" width="62" height="62" fill="#264032"/><rect x="1712" y="1107" width="62" height="62" fill="#264032"/><rect x="1772" y="1107" width="62" height="62" fill="#264032"/><rect x="1832" y="1107" width="62" height="62" fill="#264032"/><rect x="1892" y="1107" width="62" height="62" fill="#03060c"/><rect x="1952" y="1107" width="62" height="62" fill="#03060c"/><rect x="2012" y="1107" width="62" height="62" fill="#03060c"/><rect x="2072" y="1107" width="62" height="62" fill="#03060c"/><rect x="2132" y="1107" width="62" height="62" fill="#03060c"/><rect x="2192" y="1107" width="62" height="62" fill="#03060c"/><rect x="2252" y="1107" width="62" height="62" fill="#03060c"/><rect x="2312" y="1107" width="62" height="62" fill="#03060c"/><rect x="32" y="1167" width="62" height="62" fill="#03060c"/><rect x="92" y="1167" width="62" height="62" fill="#03060c"/><rect x="152" y="1167" width="62" height="62" fill="#03060c"/><rect x="212" y="1167" width="62" height="62" fill="#03060c"/><rect x="272" y="1167" width="62" height="62" fill="#03060c"/><rect x="332" y="1167" width="62" height="62" fill="#03060c"/><rect x="392" y="1167" width="62" height="62" fill="#03060c"/><rect x="452" y="1167" width="62" height="62" fill="#03060c"/><rect x="512" y="1167" width="62" height="62" fill="#03060c"/><rect x="572" y="1167" width="62" height="62" fill="#03060c"/><rect x="632" y="1167" width="62" height="62" fill="#03060c"/><rect x="692" y="1167" width="62" height="62" fill="#03060c"/><rect x="752" y="1167" width="62" height="62" fill="#03060c"/><rect x="812" y="1167" width="62" height="62" fill="#03060c"/><rect x="872" y="1167" width="62" height="62" fill="#03060c"/><rect x="932" y="1167" width="62" height="62" fill="#03060c"/><rect x="992" y="1167" width="62" height="62" fill="#03060c"/><rect x="1052" y="1167" width="62" height="62" fill="#03060c"/><rect x="1112" y="1167" width="62" height="62" fill="#03060c"/><rect x="1172" y="1167" width="62" height="62" fill="#03060c"/><rect x="1232" y="1167" width="62" height="62" fill="#03060c"/><rect x="1292" y="1167" width="62" height="62" fill="#03060c"/><rect x="1352" y="1167" width="62" height="62" fill="#03060c"/><rect x="1412" y="1167" width="62" height="62" fill="#03060c"/><rect x="1472" y="1167" width="62" height="62" fill="#03060c"/><rect x="1532" y="1167" width="62" height="62" fill="#03060c"/><rect x="1592" y="1167" width="62" height="62" fill="#03060c"/><rect x="1652" y="1167" width="62" height="62" fill="#03060c"/><rect x="1712" y="1167" width="62" height="62" fill="#03060c"/><rect x="1772" y="1167" width="62" height="62" fill="#03060c"/><rect x="1832" y="1167" width="62" height="62" fill="#03060c"/><rect x="1892" y="1167" width="62" height="62" fill="#03060c"/><rect x="1952" y="1167" width="62" height="62" fill="#03060c"/><rect x="2012" y="1167" width="62" height="62" fill="#03060c"/><rect x="2072" y="1167" width="62" height="62" fill="#03060c"/><rect x="2132" y="1167" width="62" height="62" fill="#03060c"/><rect x="2192" y="1167" width="62" height="62" fill="#03060c"/><rect x="2252" y="1167" width="62" height="62" fill="#03060c"/><rect x="2312" y="1167" width="62" height="62" fill="#03060c"/></g>
<rect x="33" y="28" width="2314" height="1179" filter="url(#tdark)" opacity="0.5"/>
<rect x="33" y="28" width="2314" height="1179" filter="url(#tlight)" opacity="0.3"/>
<path d="M20 20 L172 20 L172 28 L151 39 L142 50 L139 65 L144 83 L147 91 L120 96 L98 102 L79 111 L52 122 L33 128 L20 130 Z" fill="#0b5e93"/>
<path d="M60 77 L68 72 L80 72 L95 73 L110 76 L120 81 L132 86 L147 89 L146 99 L128 103 L110 106 L96 101 L88 95 L76 90 L66 88 L61 84 Z" fill="#bdbcb4"/>
<ellipse cx="1819" cy="46" rx="6" ry="4" fill="#0f5f8e" opacity="0.85"/>
<ellipse cx="1834" cy="82" rx="10" ry="4" fill="#0f5f8e" opacity="0.85"/>
<ellipse cx="1836" cy="98" rx="5" ry="3" fill="#0f5f8e" opacity="0.85"/>
<ellipse cx="1854" cy="106" rx="6" ry="3" fill="#0f5f8e" opacity="0.85"/>
<ellipse cx="1880" cy="198" rx="5" ry="4" fill="#0f5f8e" opacity="0.85"/>
<ellipse cx="1890" cy="224" rx="5" ry="4" fill="#0f5f8e" opacity="0.85"/>
<ellipse cx="1913" cy="257" rx="9" ry="7" fill="#0f5f8e" opacity="0.85"/>
<ellipse cx="1882" cy="283" rx="5" ry="4" fill="#0f5f8e" opacity="0.85"/>
<ellipse cx="1936" cy="52" rx="6" ry="4" fill="#0f5f8e" opacity="0.85"/>
<ellipse cx="1974" cy="85" rx="8" ry="3" fill="#0f5f8e" opacity="0.85"/>
<ellipse cx="2122" cy="351" rx="22" ry="8" fill="#0f5f8e" opacity="0.85"/>
<ellipse cx="2237" cy="353" rx="10" ry="5" fill="#0f5f8e" opacity="0.85"/>
<ellipse cx="1606" cy="255" rx="10" ry="8" fill="#0f5f8e" opacity="0.85"/>
<ellipse cx="1640" cy="240" rx="8" ry="6" fill="#0f5f8e" opacity="0.85"/>
<ellipse cx="1655" cy="262" rx="12" ry="7" fill="#0f5f8e" opacity="0.85"/>
<ellipse cx="1662" cy="280" rx="7" ry="5" fill="#0f5f8e" opacity="0.85"/>
<ellipse cx="1706" cy="268" rx="5" ry="4" fill="#0f5f8e" opacity="0.85"/>
<ellipse cx="1751" cy="257" rx="5" ry="4" fill="#0f5f8e" opacity="0.85"/>
<ellipse cx="1785" cy="60" rx="4" ry="3" fill="#0f5f8e" opacity="0.85"/>
<ellipse cx="1800" cy="120" rx="4" ry="3" fill="#0f5f8e" opacity="0.85"/>
<ellipse cx="1815" cy="150" rx="5" ry="3" fill="#0f5f8e" opacity="0.85"/>
<ellipse cx="1826" cy="205" rx="5" ry="4" fill="#0f5f8e" opacity="0.85"/>
<ellipse cx="225" cy="35" rx="10" ry="6" fill="#0f5f8e" opacity="0.85"/>
<ellipse cx="380" cy="32" rx="12" ry="5" fill="#0f5f8e" opacity="0.85"/>
<ellipse cx="432" cy="60" rx="10" ry="12" fill="#0f5f8e" opacity="0.85"/>
<path d="M20 165 L55 168 L56 220 L20 222 Z" fill="#0b5e93"/>
<path d="M700 20 L707 28 L800 36 L900 46 L1002 57 L1100 72 L1233 94 L1381 89 L1473 76 L1547 54 L1602 28 L1610 20 Z" fill="#0b5e93"/>
<path d="M20 1134 L100 1133 L200 1131 L400 1127 L633 1119 L800 1125 L1233 1125 L1300 1118 L1500 1118 L1775 1119 L1860 1112 L1997 1086 L2034 1097 L2163 1090 L2255 1082 L2360 1066 L2360 1220 L20 1220 Z" fill="#03060b"/>
<rect x="150.8" y="108.6" width="673.1" height="713.4" fill="none" stroke="#fff" stroke-width="5.5" stroke-dasharray="5.5 5.4"/>
<rect x="266.0" y="864.5" width="567.5" height="249.8" fill="none" stroke="#fff" stroke-width="5.5" stroke-dasharray="5.5 5.4"/>
<rect x="925.9" y="639.2" width="479.1" height="405.5" fill="none" stroke="#fff" stroke-width="5.5" stroke-dasharray="5.5 5.4"/>
<rect x="1425.3" y="594.4" width="433.7" height="518.2" fill="none" stroke="#fff" stroke-width="5.5" stroke-dasharray="5.5 5.4"/>
<rect x="1838.0" y="392.2" width="475.9" height="276.1" fill="none" stroke="#fff" stroke-width="5.5" stroke-dasharray="5.5 5.4"/>
<rect x="1991.0" y="697.7" width="264.8" height="203.7" fill="none" stroke="#fff" stroke-width="5.5" stroke-dasharray="5.5 5.4"/>
<text x="165.0" y="801.9" font-size="60" fill="#fff">2</text>
<text x="274.2" y="1100.0" font-size="60" fill="#fff">1</text>
<text x="935.9" y="1024.0" font-size="60" fill="#fff">3</text>
<text x="1433.5" y="1091.7" font-size="60" fill="#fff">4</text>
<text x="1867.3" y="656.3" font-size="60" fill="#fff">6</text>
<text x="1997.8" y="890.0" font-size="60" fill="#fff">5</text>
<rect x="341.6" y="123.0" width="20.3" height="20.3" fill="none" stroke="#e0e614" stroke-width="4.2"/>
<rect x="412.6" y="209.8" width="20.3" height="20.3" fill="none" stroke="#e0e614" stroke-width="4.2"/>
<rect x="523.7" y="225.8" width="14.0" height="14.0" fill="none" stroke="#ffffff" stroke-width="3.2"/>
<rect x="260.0" y="269.5" width="35.6" height="35.6" fill="none" stroke="#ec1419" stroke-width="5.4"/>
<rect x="365.0" y="339.2" width="14.0" height="14.0" fill="none" stroke="#ffffff" stroke-width="3.2"/>
<rect x="204.2" y="381.6" width="20.3" height="20.3" fill="none" stroke="#e0e614" stroke-width="4.2"/>
<rect x="243.2" y="428.2" width="20.3" height="20.3" fill="none" stroke="#e0e614" stroke-width="4.2"/>
<rect x="570.0" y="409.5" width="14.0" height="14.0" fill="none" stroke="#ffffff" stroke-width="3.2"/>
<rect x="623.8" y="405.0" width="14.0" height="14.0" fill="none" stroke="#ffffff" stroke-width="3.2"/>
<rect x="393.9" y="460.9" width="20.3" height="20.3" fill="none" stroke="#e0e614" stroke-width="4.2"/>
<rect x="500.7" y="476.6" width="14.0" height="14.0" fill="none" stroke="#ffffff" stroke-width="3.2"/>
<rect x="370.7" y="503.0" width="14.0" height="14.0" fill="none" stroke="#ffffff" stroke-width="3.2"/>
<rect x="432.4" y="501.7" width="25.9" height="25.9" fill="none" stroke="#1e1ef0" stroke-width="4.7"/>
<rect x="227.4" y="550.0" width="35.6" height="35.6" fill="none" stroke="#ec1419" stroke-width="5.4"/>
<rect x="210.0" y="579.0" width="35.6" height="35.6" fill="none" stroke="#ec1419" stroke-width="5.4"/>
<rect x="324.0" y="638.0" width="14.0" height="14.0" fill="none" stroke="#ffffff" stroke-width="3.2"/>
<rect x="400.1" y="641.8" width="14.0" height="14.0" fill="none" stroke="#ffffff" stroke-width="3.2"/>
<rect x="431.9" y="724.5" width="14.0" height="14.0" fill="none" stroke="#ffffff" stroke-width="3.2"/>
<rect x="479.2" y="749.6" width="25.9" height="25.9" fill="none" stroke="#1e1ef0" stroke-width="4.7"/>
<rect x="640.3" y="763.7" width="14.0" height="14.0" fill="none" stroke="#ffffff" stroke-width="3.2"/>
<rect x="745.1" y="758.4" width="20.3" height="20.3" fill="none" stroke="#e0e614" stroke-width="4.2"/>
<rect x="747.0" y="769.9" width="35.6" height="35.6" fill="none" stroke="#ec1419" stroke-width="5.4"/>
<rect x="722.9" y="890.6" width="20.3" height="20.3" fill="none" stroke="#e0e614" stroke-width="4.2"/>
<rect x="329.8" y="928.2" width="20.3" height="20.3" fill="none" stroke="#e0e614" stroke-width="4.2"/>
<rect x="317.4" y="950.6" width="14.0" height="14.0" fill="none" stroke="#ffffff" stroke-width="3.2"/>
<rect x="348.4" y="977.2" width="14.0" height="14.0" fill="none" stroke="#ffffff" stroke-width="3.2"/>
<rect x="389.1" y="965.4" width="14.0" height="14.0" fill="none" stroke="#ffffff" stroke-width="3.2"/>
<rect x="419.4" y="983.1" width="14.0" height="14.0" fill="none" stroke="#ffffff" stroke-width="3.2"/>
<rect x="556.0" y="946.2" width="14.0" height="14.0" fill="none" stroke="#ffffff" stroke-width="3.2"/>
<rect x="562.7" y="978.0" width="14.0" height="14.0" fill="none" stroke="#ffffff" stroke-width="3.2"/>
<rect x="536.8" y="989.0" width="14.0" height="14.0" fill="none" stroke="#ffffff" stroke-width="3.2"/>
<rect x="503.1" y="1005.6" width="35.6" height="35.6" fill="none" stroke="#ec1419" stroke-width="5.4"/>
<rect x="646.9" y="1008.9" width="25.9" height="25.9" fill="none" stroke="#1e1ef0" stroke-width="4.7"/>
<rect x="721.4" y="1030.2" width="20.3" height="20.3" fill="none" stroke="#e0e614" stroke-width="4.2"/>
<rect x="756.9" y="1021.4" width="20.3" height="20.3" fill="none" stroke="#e0e614" stroke-width="4.2"/>
<rect x="795.5" y="1009.7" width="14.0" height="14.0" fill="none" stroke="#ffffff" stroke-width="3.2"/>
<rect x="412.0" y="1034.1" width="14.0" height="14.0" fill="none" stroke="#ffffff" stroke-width="3.2"/>
<rect x="432.7" y="1037.8" width="25.9" height="25.9" fill="none" stroke="#1e1ef0" stroke-width="4.7"/>
<rect x="486.6" y="1038.6" width="14.0" height="14.0" fill="none" stroke="#ffffff" stroke-width="3.2"/>
<rect x="520.1" y="1040.3" width="35.6" height="35.6" fill="none" stroke="#ec1419" stroke-width="5.4"/>
<rect x="502.0" y="1059.8" width="20.3" height="20.3" fill="none" stroke="#e0e614" stroke-width="4.2"/>
<rect x="130.4" y="985.4" width="14.0" height="14.0" fill="none" stroke="#ffffff" stroke-width="3.2"/>
<rect x="1020.8" y="684.6" width="14.0" height="14.0" fill="none" stroke="#ffffff" stroke-width="3.2"/>
<rect x="1116.2" y="682.4" width="14.0" height="14.0" fill="none" stroke="#ffffff" stroke-width="3.2"/>
<rect x="1152.8" y="696.1" width="20.3" height="20.3" fill="none" stroke="#e0e614" stroke-width="4.2"/>
<rect x="1185.3" y="790.3" width="25.9" height="25.9" fill="none" stroke="#1e1ef0" stroke-width="4.7"/>
<rect x="1256.9" y="791.1" width="14.0" height="14.0" fill="none" stroke="#ffffff" stroke-width="3.2"/>
<rect x="1359.3" y="818.9" width="20.3" height="20.3" fill="none" stroke="#e0e614" stroke-width="4.2"/>
<rect x="1101.7" y="819.4" width="35.6" height="35.6" fill="none" stroke="#ec1419" stroke-width="5.4"/>
<rect x="938.0" y="862.6" width="25.9" height="25.9" fill="none" stroke="#1e1ef0" stroke-width="4.7"/>
<rect x="1007.4" y="878.8" width="20.3" height="20.3" fill="none" stroke="#e0e614" stroke-width="4.2"/>
<rect x="1037.8" y="907.8" width="14.0" height="14.0" fill="none" stroke="#ffffff" stroke-width="3.2"/>
<rect x="1190.6" y="886.9" width="25.9" height="25.9" fill="none" stroke="#1e1ef0" stroke-width="4.7"/>
<rect x="1325.4" y="902.6" width="20.3" height="20.3" fill="none" stroke="#e0e614" stroke-width="4.2"/>
<rect x="1191.0" y="935.7" width="35.6" height="35.6" fill="none" stroke="#ec1419" stroke-width="5.4"/>
<rect x="1364.5" y="941.7" width="35.6" height="35.6" fill="none" stroke="#ec1419" stroke-width="5.4"/>
<rect x="1232.8" y="1006.0" width="14.0" height="14.0" fill="none" stroke="#ffffff" stroke-width="3.2"/>
<rect x="1042.2" y="973.5" width="25.9" height="25.9" fill="none" stroke="#1e1ef0" stroke-width="4.7"/>
<rect x="1643.1" y="626.6" width="14.0" height="14.0" fill="none" stroke="#ffffff" stroke-width="3.2"/>
<rect x="1775.6" y="612.1" width="35.6" height="35.6" fill="none" stroke="#ec1419" stroke-width="5.4"/>
<rect x="1469.5" y="733.0" width="14.0" height="14.0" fill="none" stroke="#ffffff" stroke-width="3.2"/>
<rect x="1475.0" y="727.5" width="14.0" height="14.0" fill="none" stroke="#ffffff" stroke-width="3.2"/>
<rect x="1523.2" y="766.9" width="14.0" height="14.0" fill="none" stroke="#ffffff" stroke-width="3.2"/>
<rect x="1579.8" y="764.0" width="25.9" height="25.9" fill="none" stroke="#1e1ef0" stroke-width="4.7"/>
<rect x="1667.1" y="763.1" width="20.3" height="20.3" fill="none" stroke="#e0e614" stroke-width="4.2"/>
<rect x="1641.6" y="785.0" width="14.0" height="14.0" fill="none" stroke="#ffffff" stroke-width="3.2"/>
<rect x="1687.0" y="771.5" width="25.9" height="25.9" fill="none" stroke="#1e1ef0" stroke-width="4.7"/>
<rect x="1716.3" y="759.4" width="25.9" height="25.9" fill="none" stroke="#1e1ef0" stroke-width="4.7"/>
<rect x="1813.3" y="783.3" width="35.6" height="35.6" fill="none" stroke="#ec1419" stroke-width="5.4"/>
<rect x="1495.0" y="867.8" width="35.6" height="35.6" fill="none" stroke="#ec1419" stroke-width="5.4"/>
<rect x="1582.6" y="883.0" width="20.3" height="20.3" fill="none" stroke="#e0e614" stroke-width="4.2"/>
<rect x="1596.5" y="898.2" width="25.9" height="25.9" fill="none" stroke="#1e1ef0" stroke-width="4.7"/>
<rect x="1728.9" y="888.1" width="35.6" height="35.6" fill="none" stroke="#ec1419" stroke-width="5.4"/>
<rect x="1769.1" y="902.8" width="25.9" height="25.9" fill="none" stroke="#1e1ef0" stroke-width="4.7"/>
<rect x="1670.0" y="934.9" width="35.6" height="35.6" fill="none" stroke="#ec1419" stroke-width="5.4"/>
<rect x="1541.3" y="954.0" width="14.0" height="14.0" fill="none" stroke="#ffffff" stroke-width="3.2"/>
<rect x="1460.6" y="975.2" width="25.9" height="25.9" fill="none" stroke="#1e1ef0" stroke-width="4.7"/>
<rect x="1640.1" y="988.0" width="25.9" height="25.9" fill="none" stroke="#1e1ef0" stroke-width="4.7"/>
<rect x="1543.5" y="1005.3" width="14.0" height="14.0" fill="none" stroke="#ffffff" stroke-width="3.2"/>
<rect x="1563.9" y="1027.9" width="14.0" height="14.0" fill="none" stroke="#ffffff" stroke-width="3.2"/>
<rect x="1582.6" y="1038.3" width="20.3" height="20.3" fill="none" stroke="#e0e614" stroke-width="4.2"/>
<rect x="1588.1" y="481.9" width="25.9" height="25.9" fill="none" stroke="#1e1ef0" stroke-width="4.7"/>
<rect x="1892.8" y="898.9" width="14.0" height="14.0" fill="none" stroke="#ffffff" stroke-width="3.2"/>
<rect x="2307.8" y="709.6" width="25.9" height="25.9" fill="none" stroke="#1e1ef0" stroke-width="4.7"/>
<rect x="1857.2" y="492.2" width="20.3" height="20.3" fill="none" stroke="#e0e614" stroke-width="4.2"/>
<rect x="1889.1" y="466.1" width="25.9" height="25.9" fill="none" stroke="#1e1ef0" stroke-width="4.7"/>
<rect x="1964.4" y="463.7" width="14.0" height="14.0" fill="none" stroke="#ffffff" stroke-width="3.2"/>
<rect x="1948.6" y="487.1" width="14.0" height="14.0" fill="none" stroke="#ffffff" stroke-width="3.2"/>
<rect x="2029.3" y="464.6" width="25.9" height="25.9" fill="none" stroke="#1e1ef0" stroke-width="4.7"/>
<rect x="2100.4" y="475.9" width="25.9" height="25.9" fill="none" stroke="#1e1ef0" stroke-width="4.7"/>
<rect x="2174.0" y="494.5" width="20.3" height="20.3" fill="none" stroke="#e0e614" stroke-width="4.2"/>
<rect x="2106.3" y="525.5" width="14.0" height="14.0" fill="none" stroke="#ffffff" stroke-width="3.2"/>
<rect x="1995.4" y="552.0" width="14.0" height="14.0" fill="none" stroke="#ffffff" stroke-width="3.2"/>
<rect x="1974.3" y="568.5" width="14.0" height="14.0" fill="none" stroke="#ffffff" stroke-width="3.2"/>
<rect x="2248.0" y="548.2" width="14.0" height="14.0" fill="none" stroke="#ffffff" stroke-width="3.2"/>
<rect x="2256.9" y="625.8" width="20.3" height="20.3" fill="none" stroke="#e0e614" stroke-width="4.2"/>
<rect x="2226.2" y="650.8" width="14.0" height="14.0" fill="none" stroke="#ffffff" stroke-width="3.2"/>
<rect x="2040.0" y="765.5" width="25.9" height="25.9" fill="none" stroke="#1e1ef0" stroke-width="4.7"/>
<rect x="2104.9" y="757.2" width="25.9" height="25.9" fill="none" stroke="#1e1ef0" stroke-width="4.7"/>
<rect x="2168.9" y="748.8" width="14.0" height="14.0" fill="none" stroke="#ffffff" stroke-width="3.2"/>
<rect x="2142.6" y="776.8" width="25.9" height="25.9" fill="none" stroke="#1e1ef0" stroke-width="4.7"/>
<rect x="2049.8" y="814.5" width="25.9" height="25.9" fill="none" stroke="#1e1ef0" stroke-width="4.7"/>
<rect x="2134.2" y="843.2" width="25.9" height="25.9" fill="none" stroke="#1e1ef0" stroke-width="4.7"/>
<rect x="2205.8" y="856.7" width="14.0" height="14.0" fill="none" stroke="#ffffff" stroke-width="3.2"/>
<rect x="1988.7" y="53.2" width="320.6" height="276.2" fill="#dfe2e3" stroke="#111" stroke-width="2"/>
<text x="2014.3" y="91" font-size="38.7" font-weight="bold">Key</text>
<text x="2014.3" y="130.9" font-size="35">Block volume (m<tspan font-size="15" dy="-16">3</tspan><tspan dy="16">)</tspan></text>
<rect x="2020.2" y="158.5" width="18" height="16.2" fill="none" stroke="#000" stroke-width="2"/>
<text x="2070.9" y="177" font-size="30">&lt;0.5</text>
<rect x="2015.6" y="192" width="26.5" height="25.2" fill="none" stroke="#f7c21a" stroke-width="2.6"/>
<text x="2073" y="218.5" font-size="30">0.5-1</text>
<rect x="2011.9" y="233.7" width="33.7" height="32.2" fill="none" stroke="#1a1aff" stroke-width="2.6"/>
<text x="2070.9" y="260.6" font-size="30">1-2.5</text>
<rect x="2010.5" y="280.7" width="38.4" height="37.8" fill="none" stroke="#e81818" stroke-width="2.6"/>
<text x="2070.9" y="311.6" font-size="30">&gt;2.5</text>
<line x1="1749.4" y1="1172.2" x2="2308" y2="1172.2" stroke="#c8c8c8" stroke-width="1.3"/>
<line x1="1749.4" y1="1170" x2="1749.4" y2="1174.5" stroke="#c8c8c8" stroke-width="1.3"/>
<line x1="2308" y1="1170" x2="2308" y2="1174.5" stroke="#c8c8c8" stroke-width="1.3"/>
<text x="2028.7" y="1200.1" text-anchor="middle" font-size="27.5" fill="#f4f4f4" font-family="'DejaVu Sans', sans-serif">70</text>
<line x1="2332.4" y1="1175.7" x2="2332.4" y2="1194" stroke="#2aa6e6" stroke-width="1.6"/>
<line x1="2321" y1="1194" x2="2332.4" y2="1194" stroke="#e02020" stroke-width="1.6"/>
<line x1="2332.4" y1="1194" x2="2346.5" y2="1194" stroke="#22d022" stroke-width="1.6"/>
</g>
<g font-family="'Liberation Sans', Arial, Helvetica, sans-serif" fill="#000">
<rect x="178.6" y="1242.2" width="926" height="595.1" fill="#fff"/>
<line x1="178.6" y1="1771.18" x2="1104.6" y2="1771.18" stroke="#c4c4c4" stroke-width="1" stroke-dasharray="2 2.5"/>
<line x1="178.6" y1="1705.06" x2="1104.6" y2="1705.06" stroke="#c4c4c4" stroke-width="1" stroke-dasharray="2 2.5"/>
<line x1="178.6" y1="1638.93" x2="1104.6" y2="1638.93" stroke="#c4c4c4" stroke-width="1" stroke-dasharray="2 2.5"/>
<line x1="178.6" y1="1572.81" x2="1104.6" y2="1572.81" stroke="#c4c4c4" stroke-width="1" stroke-dasharray="2 2.5"/>
<line x1="178.6" y1="1506.69" x2="1104.6" y2="1506.69" stroke="#c4c4c4" stroke-width="1" stroke-dasharray="2 2.5"/>
<line x1="178.6" y1="1440.57" x2="1104.6" y2="1440.57" stroke="#c4c4c4" stroke-width="1" stroke-dasharray="2 2.5"/>
<line x1="178.6" y1="1374.44" x2="1104.6" y2="1374.44" stroke="#c4c4c4" stroke-width="1" stroke-dasharray="2 2.5"/>
<line x1="178.6" y1="1308.32" x2="1104.6" y2="1308.32" stroke="#c4c4c4" stroke-width="1" stroke-dasharray="2 2.5"/>
<rect x="584" y="1244" width="518" height="95" fill="#fff"/>
<rect x="178.6" y="1308.32" width="92.6" height="528.98" fill="#fff"/>
<rect x="178.6" y="1308.32" width="92.6" height="528.98" fill="url(#hatch)" stroke="#1e1ee8" stroke-width="1.8"/>
<rect x="271.2" y="1804.24" width="92.6" height="33.06" fill="#fff"/>
<rect x="271.2" y="1804.24" width="92.6" height="33.06" fill="url(#hatch)" stroke="#1e1ee8" stroke-width="1.8"/>
<rect x="363.8" y="1804.24" width="92.6" height="33.06" fill="#fff"/>
<rect x="363.8" y="1804.24" width="92.6" height="33.06" fill="url(#hatch)" stroke="#1e1ee8" stroke-width="1.8"/>
<rect x="826.8" y="1804.24" width="92.6" height="33.06" fill="#fff"/>
<rect x="826.8" y="1804.24" width="92.6" height="33.06" fill="url(#hatch)" stroke="#1e1ee8" stroke-width="1.8"/>
<polyline points="178.6,1711.25 181.17,1710.45 183.73,1709.68 186.3,1708.94 188.86,1708.22 191.43,1707.53 193.99,1706.86 196.56,1706.22 199.13,1705.61 201.69,1705.02 204.26,1704.47 206.82,1703.94 209.39,1703.44 211.96,1702.97 214.52,1702.53 217.09,1702.12 219.65,1701.74 222.22,1701.39 224.78,1701.07 227.35,1700.79 229.92,1700.53 232.48,1700.3 235.05,1700.11 237.61,1699.95 240.18,1699.82 242.74,1699.72 245.31,1699.65 247.88,1699.61 250.44,1699.61 253.01,1699.64 255.57,1699.7 258.14,1699.79 260.71,1699.92 263.27,1700.07 265.84,1700.26 268.4,1700.48 270.97,1700.73 273.53,1701.01 276.1,1701.32 278.67,1701.66 281.23,1702.04 283.8,1702.44 286.36,1702.87 288.93,1703.34 291.49,1703.83 294.06,1704.35 296.63,1704.9 299.19,1705.48 301.76,1706.09 304.32,1706.72 306.89,1707.38 309.46,1708.07 312.02,1708.78 314.59,1709.52 317.15,1710.28 319.72,1711.07 322.28,1711.89 324.85,1712.72 327.42,1713.58 329.98,1714.47 332.55,1715.37 335.11,1716.3 337.68,1717.24 340.24,1718.21 342.81,1719.2 345.38,1720.2 347.94,1721.23 350.51,1722.27 353.07,1723.33 355.64,1724.4 358.21,1725.49 360.77,1726.6 363.34,1727.72 365.9,1728.85 368.47,1730 371.03,1731.16 373.6,1732.33 376.17,1733.52 378.73,1734.71 381.3,1735.91 383.86,1737.12 386.43,1738.35 388.99,1739.57 391.56,1740.81 394.13,1742.05 396.69,1743.3 399.26,1744.55 401.82,1745.81 404.39,1747.07 406.96,1748.33 409.52,1749.6 412.09,1750.87 414.65,1752.14 417.22,1753.41 419.78,1754.68 422.35,1755.95 424.92,1757.22 427.48,1758.49 430.05,1759.76 432.61,1761.02 435.18,1762.28 437.74,1763.54 440.31,1764.79 442.88,1766.04 445.44,1767.28 448.01,1768.52 450.57,1769.75 453.14,1770.97 455.71,1772.19 458.27,1773.4 460.84,1774.6 463.4,1775.8 465.97,1776.98 468.53,1778.16 471.1,1779.32 473.67,1780.48 476.23,1781.62 478.8,1782.76 481.36,1783.88 483.93,1785 486.5,1786.1 489.06,1787.19 491.63,1788.27 494.19,1789.33 496.76,1790.39 499.32,1791.43 501.89,1792.46 504.46,1793.48 507.02,1794.48 509.59,1795.47 512.15,1796.44 514.72,1797.41 517.28,1798.36 519.85,1799.29 522.42,1800.21 524.98,1801.12 527.55,1802.01 530.11,1802.89 532.68,1803.76 535.25,1804.61 537.81,1805.45 540.38,1806.27 542.94,1807.08 545.51,1807.87 548.07,1808.65 550.64,1809.42 553.21,1810.17 555.77,1810.91 558.34,1811.63 560.9,1812.34 563.47,1813.04 566.03,1813.72 568.6,1814.38 571.17,1815.04 573.73,1815.68 576.3,1816.3 578.86,1816.92 581.43,1817.52 584,1818.1 586.56,1818.68 589.13,1819.24 591.69,1819.79 594.26,1820.32 596.82,1820.84 599.39,1821.35 601.96,1821.85 604.52,1822.34 607.09,1822.81 609.65,1823.27 612.22,1823.73 614.78,1824.16 617.35,1824.59 619.92,1825.01 622.48,1825.42 625.05,1825.81 627.61,1826.19 630.18,1826.57 632.75,1826.93 635.31,1827.29 637.88,1827.63 640.44,1827.97 643.01,1828.29 645.57,1828.61 648.14,1828.91 650.71,1829.21 653.27,1829.5 655.84,1829.78 658.4,1830.05 660.97,1830.32 663.53,1830.57 666.1,1830.82 668.67,1831.06 671.23,1831.29 673.8,1831.52 676.36,1831.74 678.93,1831.95 681.5,1832.15 684.06,1832.35 686.63,1832.54 689.19,1832.72 691.76,1832.9 694.32,1833.08 696.89,1833.24 699.46,1833.4 702.02,1833.56 704.59,1833.71 707.15,1833.85 709.72,1833.99 712.28,1834.13 714.85,1834.26 717.42,1834.39 719.98,1834.51 722.55,1834.62 725.11,1834.74 727.68,1834.84 730.25,1834.95 732.81,1835.05 735.38,1835.14 737.94,1835.24 740.51,1835.33 743.07,1835.41 745.64,1835.49 748.21,1835.57 750.77,1835.65 753.34,1835.72 755.9,1835.79 758.47,1835.86 761.03,1835.93 763.6,1835.99 766.17,1836.05 768.73,1836.11 771.3,1836.16 773.86,1836.21 776.43,1836.26 779,1836.31 781.56,1836.36 784.13,1836.4 786.69,1836.44 789.26,1836.49 791.82,1836.52 794.39,1836.56" fill="none" stroke="#dc1f26" stroke-width="2"/>
<rect x="178.6" y="1242.2" width="926" height="595.1" fill="none" stroke="#111" stroke-width="2"/>
<line x1="178.6" y1="1837.3" x2="184.6" y2="1837.3" stroke="#111" stroke-width="2"/>
<line x1="1098.6" y1="1837.3" x2="1104.6" y2="1837.3" stroke="#111" stroke-width="2"/>
<text transform="translate(166.1 1845.6) scale(1.22 1)" text-anchor="end" font-size="19.5">0</text>
<line x1="178.6" y1="1771.18" x2="184.6" y2="1771.18" stroke="#111" stroke-width="2"/>
<line x1="1098.6" y1="1771.18" x2="1104.6" y2="1771.18" stroke="#111" stroke-width="2"/>
<text transform="translate(166.1 1779.48) scale(1.22 1)" text-anchor="end" font-size="19.5">2</text>
<line x1="178.6" y1="1705.06" x2="184.6" y2="1705.06" stroke="#111" stroke-width="2"/>
<line x1="1098.6" y1="1705.06" x2="1104.6" y2="1705.06" stroke="#111" stroke-width="2"/>
<text transform="translate(166.1 1713.36) scale(1.22 1)" text-anchor="end" font-size="19.5">4</text>
<line x1="178.6" y1="1638.93" x2="184.6" y2="1638.93" stroke="#111" stroke-width="2"/>
<line x1="1098.6" y1="1638.93" x2="1104.6" y2="1638.93" stroke="#111" stroke-width="2"/>
<text transform="translate(166.1 1647.23) scale(1.22 1)" text-anchor="end" font-size="19.5">6</text>
<line x1="178.6" y1="1572.81" x2="184.6" y2="1572.81" stroke="#111" stroke-width="2"/>
<line x1="1098.6" y1="1572.81" x2="1104.6" y2="1572.81" stroke="#111" stroke-width="2"/>
<text transform="translate(166.1 1581.11) scale(1.22 1)" text-anchor="end" font-size="19.5">8</text>
<line x1="178.6" y1="1506.69" x2="184.6" y2="1506.69" stroke="#111" stroke-width="2"/>
<line x1="1098.6" y1="1506.69" x2="1104.6" y2="1506.69" stroke="#111" stroke-width="2"/>
<text transform="translate(166.1 1514.99) scale(1.22 1)" text-anchor="end" font-size="19.5">10</text>
<line x1="178.6" y1="1440.57" x2="184.6" y2="1440.57" stroke="#111" stroke-width="2"/>
<line x1="1098.6" y1="1440.57" x2="1104.6" y2="1440.57" stroke="#111" stroke-width="2"/>
<text transform="translate(166.1 1448.87) scale(1.22 1)" text-anchor="end" font-size="19.5">12</text>
<line x1="178.6" y1="1374.44" x2="184.6" y2="1374.44" stroke="#111" stroke-width="2"/>
<line x1="1098.6" y1="1374.44" x2="1104.6" y2="1374.44" stroke="#111" stroke-width="2"/>
<text transform="translate(166.1 1382.74) scale(1.22 1)" text-anchor="end" font-size="19.5">14</text>
<line x1="178.6" y1="1308.32" x2="184.6" y2="1308.32" stroke="#111" stroke-width="2"/>
<text transform="translate(166.1 1316.62) scale(1.22 1)" text-anchor="end" font-size="19.5">16</text>
<line x1="178.6" y1="1242.2" x2="184.6" y2="1242.2" stroke="#111" stroke-width="2"/>
<text transform="translate(166.1 1250.5) scale(1.22 1)" text-anchor="end" font-size="19.5">18</text>
<line x1="178.6" y1="1837.3" x2="178.6" y2="1831.3" stroke="#111" stroke-width="2"/>
<text transform="translate(178.6 1865.9) scale(1.22 1)" text-anchor="middle" font-size="19.5">0</text>
<line x1="271.2" y1="1837.3" x2="271.2" y2="1831.3" stroke="#111" stroke-width="2"/>
<text transform="translate(271.2 1865.9) scale(1.22 1)" text-anchor="middle" font-size="19.5">2</text>
<line x1="363.8" y1="1837.3" x2="363.8" y2="1831.3" stroke="#111" stroke-width="2"/>
<text transform="translate(363.8 1865.9) scale(1.22 1)" text-anchor="middle" font-size="19.5">4</text>
<line x1="456.4" y1="1837.3" x2="456.4" y2="1831.3" stroke="#111" stroke-width="2"/>
<text transform="translate(456.4 1865.9) scale(1.22 1)" text-anchor="middle" font-size="19.5">6</text>
<line x1="549" y1="1837.3" x2="549" y2="1831.3" stroke="#111" stroke-width="2"/>
<text transform="translate(549 1865.9) scale(1.22 1)" text-anchor="middle" font-size="19.5">8</text>
<line x1="641.6" y1="1837.3" x2="641.6" y2="1831.3" stroke="#111" stroke-width="2"/>
<text transform="translate(641.6 1865.9) scale(1.22 1)" text-anchor="middle" font-size="19.5">10</text>
<line x1="734.2" y1="1837.3" x2="734.2" y2="1831.3" stroke="#111" stroke-width="2"/>
<text transform="translate(734.2 1865.9) scale(1.22 1)" text-anchor="middle" font-size="19.5">12</text>
<line x1="826.8" y1="1837.3" x2="826.8" y2="1831.3" stroke="#111" stroke-width="2"/>
<text transform="translate(826.8 1865.9) scale(1.22 1)" text-anchor="middle" font-size="19.5">14</text>
<line x1="919.4" y1="1837.3" x2="919.4" y2="1831.3" stroke="#111" stroke-width="2"/>
<text transform="translate(919.4 1865.9) scale(1.22 1)" text-anchor="middle" font-size="19.5">16</text>
<line x1="1012" y1="1837.3" x2="1012" y2="1831.3" stroke="#111" stroke-width="2"/>
<text transform="translate(1012 1865.9) scale(1.22 1)" text-anchor="middle" font-size="19.5">18</text>
<text x="190.4" y="1277.5" font-size="42" text-anchor="start">Sector 1</text>
<text x="190.5" y="1301.5" font-size="21.8" text-anchor="start">Mean = 1.53; StdDv = 3.64; Max = 16; Min = 0.034</text>
<text x="82.5" y="1541" transform="rotate(-90 124.5 1541)" font-size="21" textLength="84" lengthAdjust="spacingAndGlyphs">No of obs</text>
<text transform="translate(640.3 1904.5) scale(1.12 1)" text-anchor="middle" font-size="20">Volume (m<tspan font-size="12.5" dy="-9">3</tspan><tspan dy="9">)</tspan></text>
<path d="M928 1416 L928 1269.5 A146.5 146.5 0 0 1 928 1562.5 Z" fill="#d8d8d8"/>
<path d="M928 1416 L928 1562.5 A146.5 146.5 0 0 1 783.73 1390.56 Z" fill="#d5e043"/>
<path d="M928 1416 L783.73 1390.56 A146.5 146.5 0 0 1 833.83 1303.77 Z" fill="#2525fb"/>
<path d="M928 1416 L833.83 1303.77 A146.5 146.5 0 0 1 928 1269.5 Z" fill="#e01318"/>
<text x="1017" y="1423" text-anchor="middle" font-size="30.8" font-weight="bold" fill="#404040">50%</text>
<text x="868" y="1481.6" text-anchor="middle" font-size="30.8" font-weight="bold" fill="#404040">28%</text>
<text x="842" y="1386.3" text-anchor="middle" font-size="30.8" font-weight="bold" fill="#404040">11%</text>
<text x="893" y="1334.2" text-anchor="middle" font-size="30.8" font-weight="bold" fill="#404040">11%</text>
<rect x="812.34" y="1595" width="12.6" height="12.6" fill="#d8d8d8"/>
<text x="827.54" y="1607.5" font-size="17.4" font-weight="bold" fill="#555555">&lt;0.5</text>
<rect x="872.39" y="1595" width="12.6" height="12.6" fill="#d5e043"/>
<text x="887.59" y="1607.5" font-size="17.4" font-weight="bold" fill="#555555">0.5-1</text>
<rect x="937.75" y="1595" width="12.6" height="12.6" fill="#2525fb"/>
<text x="952.95" y="1607.5" font-size="17.4" font-weight="bold" fill="#555555">1-2.5</text>
<rect x="1003.11" y="1595" width="12.6" height="12.6" fill="#e01318"/>
<text x="1018.31" y="1607.5" font-size="17.4" font-weight="bold" fill="#555555">&gt;2.5</text>
<text x="936" y="1635.7" text-anchor="middle" font-size="19.2" fill="#555555">Block volume (m<tspan font-size="11" dy="-8">3</tspan><tspan dy="8">)</tspan></text>
<rect x="1312.5" y="1242.5" width="922.5" height="587.3" fill="#fff"/>
<line x1="1312.5" y1="1731.92" x2="2235" y2="1731.92" stroke="#c4c4c4" stroke-width="1" stroke-dasharray="2 2.5"/>
<line x1="1312.5" y1="1634.03" x2="2235" y2="1634.03" stroke="#c4c4c4" stroke-width="1" stroke-dasharray="2 2.5"/>
<line x1="1312.5" y1="1536.15" x2="2235" y2="1536.15" stroke="#c4c4c4" stroke-width="1" stroke-dasharray="2 2.5"/>
<line x1="1312.5" y1="1438.27" x2="2235" y2="1438.27" stroke="#c4c4c4" stroke-width="1" stroke-dasharray="2 2.5"/>
<line x1="1312.5" y1="1340.38" x2="2235" y2="1340.38" stroke="#c4c4c4" stroke-width="1" stroke-dasharray="2 2.5"/>
<rect x="1312.5" y="1340.38" width="97.13" height="489.42" fill="#fff"/>
<rect x="1312.5" y="1340.38" width="97.13" height="489.42" fill="url(#hatch)" stroke="#1e1ee8" stroke-width="1.8"/>
<rect x="1409.63" y="1536.15" width="97.13" height="293.65" fill="#fff"/>
<rect x="1409.63" y="1536.15" width="97.13" height="293.65" fill="url(#hatch)" stroke="#1e1ee8" stroke-width="1.8"/>
<rect x="1506.75" y="1780.86" width="97.13" height="48.94" fill="#fff"/>
<rect x="1506.75" y="1780.86" width="97.13" height="48.94" fill="url(#hatch)" stroke="#1e1ee8" stroke-width="1.8"/>
<rect x="1701" y="1780.86" width="97.13" height="48.94" fill="#fff"/>
<rect x="1701" y="1780.86" width="97.13" height="48.94" fill="url(#hatch)" stroke="#1e1ee8" stroke-width="1.8"/>
<rect x="1798.13" y="1780.86" width="97.13" height="48.94" fill="#fff"/>
<rect x="1798.13" y="1780.86" width="97.13" height="48.94" fill="url(#hatch)" stroke="#1e1ee8" stroke-width="1.8"/>
<rect x="1992.38" y="1731.92" width="97.13" height="97.88" fill="#fff"/>
<rect x="1992.38" y="1731.92" width="97.13" height="97.88" fill="url(#hatch)" stroke="#1e1ee8" stroke-width="1.8"/>
<rect x="2089.51" y="1780.86" width="97.13" height="48.94" fill="#fff"/>
<rect x="2089.51" y="1780.86" width="97.13" height="48.94" fill="url(#hatch)" stroke="#1e1ee8" stroke-width="1.8"/>
<polyline points="1312.5,1713.97 1316.34,1712.6 1320.19,1711.23 1324.03,1709.88 1327.88,1708.53 1331.72,1707.2 1335.56,1705.88 1339.41,1704.58 1343.25,1703.29 1347.09,1702.01 1350.94,1700.75 1354.78,1699.5 1358.62,1698.27 1362.47,1697.06 1366.31,1695.86 1370.16,1694.69 1374,1693.53 1377.84,1692.39 1381.69,1691.28 1385.53,1690.18 1389.38,1689.11 1393.22,1688.06 1397.06,1687.04 1400.91,1686.03 1404.75,1685.06 1408.59,1684.1 1412.44,1683.18 1416.28,1682.28 1420.12,1681.4 1423.97,1680.56 1427.81,1679.74 1431.66,1678.95 1435.5,1678.19 1439.34,1677.46 1443.19,1676.75 1447.03,1676.08 1450.88,1675.44 1454.72,1674.83 1458.56,1674.25 1462.41,1673.71 1466.25,1673.19 1470.09,1672.71 1473.94,1672.26 1477.78,1671.85 1481.62,1671.47 1485.47,1671.12 1489.31,1670.8 1493.16,1670.52 1497,1670.28 1500.84,1670.06 1504.69,1669.89 1508.53,1669.74 1512.38,1669.64 1516.22,1669.56 1520.06,1669.53 1523.91,1669.52 1527.75,1669.56 1531.59,1669.62 1535.44,1669.73 1539.28,1669.86 1543.12,1670.03 1546.97,1670.24 1550.81,1670.48 1554.66,1670.76 1558.5,1671.06 1562.34,1671.41 1566.19,1671.78 1570.03,1672.19 1573.88,1672.64 1577.72,1673.11 1581.56,1673.62 1585.41,1674.16 1589.25,1674.74 1593.09,1675.34 1596.94,1675.98 1600.78,1676.64 1604.62,1677.34 1608.47,1678.07 1612.31,1678.83 1616.16,1679.61 1620,1680.42 1623.84,1681.27 1627.69,1682.14 1631.53,1683.03 1635.38,1683.95 1639.22,1684.9 1643.06,1685.88 1646.91,1686.88 1650.75,1687.9 1654.59,1688.94 1658.44,1690.01 1662.28,1691.1 1666.12,1692.21 1669.97,1693.35 1673.81,1694.5 1677.66,1695.67 1681.5,1696.86 1685.34,1698.07 1689.19,1699.3 1693.03,1700.55 1696.88,1701.81 1700.72,1703.08 1704.56,1704.37 1708.41,1705.67 1712.25,1706.99 1716.09,1708.32 1719.94,1709.66 1723.78,1711.01 1727.62,1712.38 1731.47,1713.75 1735.31,1715.13 1739.16,1716.52 1743,1717.92 1746.84,1719.32 1750.69,1720.73 1754.53,1722.15 1758.38,1723.57 1762.22,1724.99 1766.06,1726.42 1769.91,1727.85 1773.75,1729.29 1777.59,1730.72 1781.44,1732.16 1785.28,1733.59 1789.12,1735.03 1792.97,1736.46 1796.81,1737.89 1800.66,1739.32 1804.5,1740.75 1808.34,1742.17 1812.19,1743.59 1816.03,1745.01 1819.88,1746.42 1823.72,1747.82 1827.56,1749.22 1831.41,1750.62 1835.25,1752 1839.09,1753.38 1842.94,1754.75 1846.78,1756.11 1850.62,1757.46 1854.47,1758.8 1858.31,1760.14 1862.16,1761.46 1866,1762.77 1869.84,1764.07 1873.69,1765.36 1877.53,1766.64 1881.38,1767.91 1885.22,1769.16 1889.06,1770.41 1892.91,1771.63 1896.75,1772.85 1900.59,1774.05 1904.44,1775.24 1908.28,1776.42 1912.12,1777.58 1915.97,1778.73 1919.81,1779.86 1923.66,1780.98 1927.5,1782.09 1931.34,1783.18 1935.19,1784.25 1939.03,1785.31 1942.88,1786.35 1946.72,1787.38 1950.56,1788.4 1954.41,1789.39 1958.25,1790.38 1962.09,1791.34 1965.94,1792.3 1969.78,1793.23 1973.62,1794.15 1977.47,1795.06 1981.31,1795.95 1985.16,1796.82 1989,1797.68 1992.84,1798.52 1996.69,1799.35 2000.53,1800.16 2004.38,1800.96 2008.22,1801.74 2012.06,1802.5 2015.91,1803.26 2019.75,1803.99 2023.59,1804.71 2027.44,1805.42 2031.28,1806.11 2035.12,1806.79 2038.97,1807.45 2042.81,1808.1 2046.66,1808.73 2050.5,1809.35 2054.34,1809.96 2058.19,1810.55 2062.03,1811.13 2065.88,1811.69 2069.72,1812.24 2073.56,1812.78 2077.41,1813.31 2081.25,1813.82 2085.09,1814.32 2088.94,1814.81 2092.78,1815.29 2096.62,1815.75 2100.47,1816.2 2104.31,1816.64 2108.16,1817.07 2112,1817.49 2115.84,1817.89 2119.69,1818.29 2123.53,1818.67 2127.38,1819.05 2131.22,1819.41 2135.06,1819.77 2138.91,1820.11 2142.75,1820.44 2146.59,1820.77 2150.44,1821.08 2154.28,1821.39 2158.12,1821.69 2161.97,1821.98 2165.81,1822.25 2169.66,1822.53 2173.5,1822.79 2177.34,1823.04 2181.19,1823.29 2185.03,1823.53 2188.88,1823.76 2192.72,1823.99 2196.56,1824.21 2200.41,1824.42 2204.25,1824.62 2208.09,1824.82 2211.94,1825.01 2215.78,1825.19 2219.62,1825.37 2223.47,1825.54 2227.31,1825.71 2231.16,1825.87 2235,1826.02" fill="none" stroke="#dc1f26" stroke-width="2"/>
<rect x="1312.5" y="1242.5" width="922.5" height="587.3" fill="none" stroke="#111" stroke-width="2"/>
<line x1="1312.5" y1="1829.8" x2="1318.5" y2="1829.8" stroke="#111" stroke-width="2"/>
<line x1="2229" y1="1829.8" x2="2235" y2="1829.8" stroke="#111" stroke-width="2"/>
<text transform="translate(1300 1838.1) scale(1.1 1)" text-anchor="end" font-size="19.5">0</text>
<line x1="1312.5" y1="1731.92" x2="1318.5" y2="1731.92" stroke="#111" stroke-width="2"/>
<line x1="2229" y1="1731.92" x2="2235" y2="1731.92" stroke="#111" stroke-width="2"/>
<text transform="translate(1300 1740.22) scale(1.1 1)" text-anchor="end" font-size="19.5">2</text>
<line x1="1312.5" y1="1634.03" x2="1318.5" y2="1634.03" stroke="#111" stroke-width="2"/>
<line x1="2229" y1="1634.03" x2="2235" y2="1634.03" stroke="#111" stroke-width="2"/>
<text transform="translate(1300 1642.33) scale(1.1 1)" text-anchor="end" font-size="19.5">4</text>
<line x1="1312.5" y1="1536.15" x2="1318.5" y2="1536.15" stroke="#111" stroke-width="2"/>
<line x1="2229" y1="1536.15" x2="2235" y2="1536.15" stroke="#111" stroke-width="2"/>
<text transform="translate(1300 1544.45) scale(1.1 1)" text-anchor="end" font-size="19.5">6</text>
<line x1="1312.5" y1="1438.27" x2="1318.5" y2="1438.27" stroke="#111" stroke-width="2"/>
<line x1="2229" y1="1438.27" x2="2235" y2="1438.27" stroke="#111" stroke-width="2"/>
<text transform="translate(1300 1446.57) scale(1.1 1)" text-anchor="end" font-size="19.5">8</text>
<line x1="1312.5" y1="1340.38" x2="1318.5" y2="1340.38" stroke="#111" stroke-width="2"/>
<line x1="2229" y1="1340.38" x2="2235" y2="1340.38" stroke="#111" stroke-width="2"/>
<text transform="translate(1300 1348.68) scale(1.1 1)" text-anchor="end" font-size="19.5">10</text>
<line x1="1312.5" y1="1242.5" x2="1318.5" y2="1242.5" stroke="#111" stroke-width="2"/>
<line x1="2229" y1="1242.5" x2="2235" y2="1242.5" stroke="#111" stroke-width="2"/>
<text transform="translate(1300 1250.8) scale(1.1 1)" text-anchor="end" font-size="19.5">12</text>
<line x1="1312.5" y1="1829.8" x2="1312.5" y2="1823.8" stroke="#111" stroke-width="2"/>
<text transform="translate(1312.5 1860.8) scale(1.1 1)" text-anchor="middle" font-size="19.5">0.0</text>
<line x1="1409.63" y1="1829.8" x2="1409.63" y2="1823.8" stroke="#111" stroke-width="2"/>
<text transform="translate(1409.63 1860.8) scale(1.1 1)" text-anchor="middle" font-size="19.5">0.5</text>
<line x1="1506.75" y1="1829.8" x2="1506.75" y2="1823.8" stroke="#111" stroke-width="2"/>
<text transform="translate(1506.75 1860.8) scale(1.1 1)" text-anchor="middle" font-size="19.5">1.0</text>
<line x1="1603.88" y1="1829.8" x2="1603.88" y2="1823.8" stroke="#111" stroke-width="2"/>
<text transform="translate(1603.88 1860.8) scale(1.1 1)" text-anchor="middle" font-size="19.5">1.5</text>
<line x1="1701" y1="1829.8" x2="1701" y2="1823.8" stroke="#111" stroke-width="2"/>
<text transform="translate(1701 1860.8) scale(1.1 1)" text-anchor="middle" font-size="19.5">2.0</text>
<line x1="1798.13" y1="1829.8" x2="1798.13" y2="1823.8" stroke="#111" stroke-width="2"/>
<text transform="translate(1798.13 1860.8) scale(1.1 1)" text-anchor="middle" font-size="19.5">2.5</text>
<line x1="1895.25" y1="1829.8" x2="1895.25" y2="1823.8" stroke="#111" stroke-width="2"/>
<text transform="translate(1895.25 1860.8) scale(1.1 1)" text-anchor="middle" font-size="19.5">3.0</text>
<line x1="1992.38" y1="1829.8" x2="1992.38" y2="1823.8" stroke="#111" stroke-width="2"/>
<text transform="translate(1992.38 1860.8) scale(1.1 1)" text-anchor="middle" font-size="19.5">3.5</text>
<line x1="2089.51" y1="1829.8" x2="2089.51" y2="1823.8" stroke="#111" stroke-width="2"/>
<text transform="translate(2089.51 1860.8) scale(1.1 1)" text-anchor="middle" font-size="19.5">4.0</text>
<line x1="2186.63" y1="1829.8" x2="2186.63" y2="1823.8" stroke="#111" stroke-width="2"/>
<line x1="2186.63" y1="1242.5" x2="2186.63" y2="1248.5" stroke="#111" stroke-width="2"/>
<text transform="translate(2186.63 1860.8) scale(1.1 1)" text-anchor="middle" font-size="19.5">4.5</text>
<text x="1319.6" y="1281.9" font-size="43.4" text-anchor="start">Sector 2</text>
<text x="1321.6" y="1308.3" font-size="19.95" text-anchor="start">Mean = 1.08; StdDv = 1.34; Max = 4.06; Min = 0.034</text>
<text x="1209.8" y="1533" transform="rotate(-90 1256.8 1533)" font-size="21" textLength="94" lengthAdjust="spacingAndGlyphs">No of obs</text>
<text transform="translate(1773.5 1896.5) scale(1.02 1)" text-anchor="middle" font-size="20">Volume (m <tspan font-size="12.5" dy="-9">3</tspan><tspan dy="9">)</tspan></text>
<path d="M2065.5 1407 L2065.5 1261 A146 146 0 0 1 2106.63 1547.09 Z" fill="#d8d8d8"/>
<path d="M2065.5 1407 L2106.63 1547.09 A146 146 0 0 1 1920.99 1427.78 Z" fill="#d5e043"/>
<path d="M2065.5 1407 L1920.99 1427.78 A146 146 0 0 1 1932.69 1346.35 Z" fill="#2525fb"/>
<path d="M2065.5 1407 L1932.69 1346.35 A146 146 0 0 1 2065.5 1261 Z" fill="#e01318"/>
<text x="2151.6" y="1409.6" text-anchor="middle" font-size="30.8" font-weight="bold" fill="#404040">46%</text>
<text x="2033" y="1491.6" text-anchor="middle" font-size="30.8" font-weight="bold" fill="#404040">27%</text>
<text x="1971" y="1404" text-anchor="middle" font-size="30.8" font-weight="bold" fill="#404040">9%</text>
<text x="2021.5" y="1342.4" text-anchor="middle" font-size="30.8" font-weight="bold" fill="#404040">18%</text>
<rect x="1942.84" y="1575.1" width="12.6" height="12.6" fill="#d8d8d8"/>
<text x="1958.04" y="1587.6" font-size="17.4" font-weight="bold" fill="#555555">&lt;0.5</text>
<rect x="2002.89" y="1575.1" width="12.6" height="12.6" fill="#d5e043"/>
<text x="2018.09" y="1587.6" font-size="17.4" font-weight="bold" fill="#555555">0.5-1</text>
<rect x="2068.25" y="1575.1" width="12.6" height="12.6" fill="#2525fb"/>
<text x="2083.45" y="1587.6" font-size="17.4" font-weight="bold" fill="#555555">1-2.5</text>
<rect x="2133.61" y="1575.1" width="12.6" height="12.6" fill="#e01318"/>
<text x="2148.81" y="1587.6" font-size="17.4" font-weight="bold" fill="#555555">&gt;2.5</text>
<text x="2067" y="1614.6" text-anchor="middle" font-size="19.2" fill="#555555">Block volume (m<tspan font-size="11" dy="-8">3</tspan><tspan dy="8">)</tspan></text>
<rect x="182.3" y="1931.8" width="921.8" height="587.2" fill="#fff"/>
<line x1="182.3" y1="2460.28" x2="1104.1" y2="2460.28" stroke="#c4c4c4" stroke-width="1" stroke-dasharray="2 2.5"/>
<line x1="182.3" y1="2401.56" x2="1104.1" y2="2401.56" stroke="#c4c4c4" stroke-width="1" stroke-dasharray="2 2.5"/>
<line x1="182.3" y1="2342.84" x2="1104.1" y2="2342.84" stroke="#c4c4c4" stroke-width="1" stroke-dasharray="2 2.5"/>
<line x1="182.3" y1="2284.12" x2="1104.1" y2="2284.12" stroke="#c4c4c4" stroke-width="1" stroke-dasharray="2 2.5"/>
<line x1="182.3" y1="2225.4" x2="1104.1" y2="2225.4" stroke="#c4c4c4" stroke-width="1" stroke-dasharray="2 2.5"/>
<line x1="182.3" y1="2166.68" x2="1104.1" y2="2166.68" stroke="#c4c4c4" stroke-width="1" stroke-dasharray="2 2.5"/>
<line x1="182.3" y1="2107.96" x2="1104.1" y2="2107.96" stroke="#c4c4c4" stroke-width="1" stroke-dasharray="2 2.5"/>
<line x1="182.3" y1="2049.24" x2="1104.1" y2="2049.24" stroke="#c4c4c4" stroke-width="1" stroke-dasharray="2 2.5"/>
<line x1="182.3" y1="1990.52" x2="1104.1" y2="1990.52" stroke="#c4c4c4" stroke-width="1" stroke-dasharray="2 2.5"/>
<rect x="530" y="1934" width="572" height="85" fill="#fff"/>
<rect x="182.3" y="1990.52" width="97.09" height="528.48" fill="#fff"/>
<rect x="182.3" y="1990.52" width="97.09" height="528.48" fill="url(#hatch)" stroke="#1e1ee8" stroke-width="1.8"/>
<rect x="279.39" y="2401.56" width="97.09" height="117.44" fill="#fff"/>
<rect x="279.39" y="2401.56" width="97.09" height="117.44" fill="url(#hatch)" stroke="#1e1ee8" stroke-width="1.8"/>
<rect x="376.49" y="2342.84" width="97.09" height="176.16" fill="#fff"/>
<rect x="376.49" y="2342.84" width="97.09" height="176.16" fill="url(#hatch)" stroke="#1e1ee8" stroke-width="1.8"/>
<rect x="861.95" y="2401.56" width="97.09" height="117.44" fill="#fff"/>
<rect x="861.95" y="2401.56" width="97.09" height="117.44" fill="url(#hatch)" stroke="#1e1ee8" stroke-width="1.8"/>
<polyline points="182.3,2401.89 186.14,2400.33 189.98,2398.79 193.82,2397.25 197.66,2395.74 201.5,2394.24 205.35,2392.76 209.19,2391.29 213.03,2389.85 216.87,2388.43 220.71,2387.03 224.55,2385.65 228.39,2384.3 232.23,2382.97 236.07,2381.67 239.91,2380.4 243.75,2379.15 247.59,2377.93 251.44,2376.75 255.28,2375.59 259.12,2374.47 262.96,2373.37 266.8,2372.32 270.64,2371.29 274.48,2370.31 278.32,2369.36 282.16,2368.44 286,2367.56 289.84,2366.73 293.68,2365.93 297.52,2365.17 301.37,2364.45 305.21,2363.77 309.05,2363.13 312.89,2362.54 316.73,2361.99 320.57,2361.48 324.41,2361.01 328.25,2360.59 332.09,2360.22 335.93,2359.88 339.77,2359.6 343.62,2359.35 347.46,2359.16 351.3,2359 355.14,2358.9 358.98,2358.84 362.82,2358.82 366.66,2358.86 370.5,2358.93 374.34,2359.05 378.18,2359.22 382.02,2359.44 385.86,2359.7 389.7,2360 393.55,2360.35 397.39,2360.74 401.23,2361.18 405.07,2361.66 408.91,2362.18 412.75,2362.75 416.59,2363.36 420.43,2364.01 424.27,2364.71 428.11,2365.44 431.95,2366.21 435.8,2367.03 439.64,2367.88 443.48,2368.77 447.32,2369.7 451.16,2370.66 455,2371.66 458.84,2372.7 462.68,2373.77 466.52,2374.87 470.36,2376.01 474.2,2377.18 478.04,2378.37 481.88,2379.6 485.73,2380.86 489.57,2382.14 493.41,2383.45 497.25,2384.79 501.09,2386.15 504.93,2387.54 508.77,2388.95 512.61,2390.38 516.45,2391.83 520.29,2393.3 524.13,2394.79 527.98,2396.29 531.82,2397.81 535.66,2399.35 539.5,2400.9 543.34,2402.47 547.18,2404.05 551.02,2405.63 554.86,2407.23 558.7,2408.84 562.54,2410.45 566.38,2412.08 570.22,2413.7 574.06,2415.34 577.91,2416.97 581.75,2418.61 585.59,2420.25 589.43,2421.9 593.27,2423.54 597.11,2425.18 600.95,2426.82 604.79,2428.46 608.63,2430.09 612.47,2431.72 616.31,2433.34 620.15,2434.96 624,2436.57 627.84,2438.17 631.68,2439.76 635.52,2441.35 639.36,2442.92 643.2,2444.49 647.04,2446.04 650.88,2447.58 654.72,2449.11 658.56,2450.62 662.4,2452.12 666.25,2453.61 670.09,2455.08 673.93,2456.54 677.77,2457.98 681.61,2459.41 685.45,2460.82 689.29,2462.21 693.13,2463.58 696.97,2464.94 700.81,2466.27 704.65,2467.59 708.49,2468.89 712.34,2470.18 716.18,2471.44 720.02,2472.68 723.86,2473.91 727.7,2475.11 731.54,2476.29 735.38,2477.46 739.22,2478.6 743.06,2479.72 746.9,2480.83 750.74,2481.91 754.58,2482.97 758.42,2484.01 762.27,2485.04 766.11,2486.04 769.95,2487.02 773.79,2487.98 777.63,2488.92 781.47,2489.84 785.31,2490.74 789.15,2491.62 792.99,2492.48 796.83,2493.32 800.67,2494.14 804.52,2494.94 808.36,2495.72 812.2,2496.49 816.04,2497.23 819.88,2497.96 823.72,2498.67 827.56,2499.35 831.4,2500.03 835.24,2500.68 839.08,2501.32 842.92,2501.94 846.76,2502.54 850.61,2503.12 854.45,2503.69 858.29,2504.24 862.13,2504.78 865.97,2505.3 869.81,2505.81 873.65,2506.3 877.49,2506.78 881.33,2507.24 885.17,2507.68 889.01,2508.12 892.85,2508.54 896.69,2508.94 900.54,2509.34 904.38,2509.72 908.22,2510.09 912.06,2510.44 915.9,2510.79 919.74,2511.12 923.58,2511.44 927.42,2511.75 931.26,2512.05 935.1,2512.34 938.94,2512.62 942.78,2512.89 946.63,2513.15 950.47,2513.4 954.31,2513.64 958.15,2513.87 961.99,2514.09 965.83,2514.31 969.67,2514.51 973.51,2514.71 977.35,2514.9 981.19,2515.09 985.03,2515.27 988.88,2515.43 992.72,2515.6 996.56,2515.75 1000.4,2515.9 1004.24,2516.05 1008.08,2516.19 1011.92,2516.32 1015.76,2516.45 1019.6,2516.57 1023.44,2516.68 1027.28,2516.8 1031.12,2516.9 1034.96,2517 1038.81,2517.1 1042.65,2517.2 1046.49,2517.28 1050.33,2517.37 1054.17,2517.45 1058.01,2517.53 1061.85,2517.6 1065.69,2517.68 1069.53,2517.74 1073.37,2517.81 1077.21,2517.87 1081.06,2517.93 1084.9,2517.98 1088.74,2518.04 1092.58,2518.09 1096.42,2518.14 1100.26,2518.18 1104.1,2518.23" fill="none" stroke="#dc1f26" stroke-width="2"/>
<rect x="182.3" y="1931.8" width="921.8" height="587.2" fill="none" stroke="#111" stroke-width="2"/>
<line x1="182.3" y1="2519" x2="188.3" y2="2519" stroke="#111" stroke-width="2"/>
<line x1="1098.1" y1="2519" x2="1104.1" y2="2519" stroke="#111" stroke-width="2"/>
<text transform="translate(169.8 2527.3) scale(1.12 1)" text-anchor="end" font-size="19.5">0</text>
<line x1="182.3" y1="2460.28" x2="188.3" y2="2460.28" stroke="#111" stroke-width="2"/>
<line x1="1098.1" y1="2460.28" x2="1104.1" y2="2460.28" stroke="#111" stroke-width="2"/>
<text transform="translate(169.8 2468.58) scale(1.12 1)" text-anchor="end" font-size="19.5">1</text>
<line x1="182.3" y1="2401.56" x2="188.3" y2="2401.56" stroke="#111" stroke-width="2"/>
<line x1="1098.1" y1="2401.56" x2="1104.1" y2="2401.56" stroke="#111" stroke-width="2"/>
<text transform="translate(169.8 2409.86) scale(1.12 1)" text-anchor="end" font-size="19.5">2</text>
<line x1="182.3" y1="2342.84" x2="188.3" y2="2342.84" stroke="#111" stroke-width="2"/>
<line x1="1098.1" y1="2342.84" x2="1104.1" y2="2342.84" stroke="#111" stroke-width="2"/>
<text transform="translate(169.8 2351.14) scale(1.12 1)" text-anchor="end" font-size="19.5">3</text>
<line x1="182.3" y1="2284.12" x2="188.3" y2="2284.12" stroke="#111" stroke-width="2"/>
<line x1="1098.1" y1="2284.12" x2="1104.1" y2="2284.12" stroke="#111" stroke-width="2"/>
<text transform="translate(169.8 2292.42) scale(1.12 1)" text-anchor="end" font-size="19.5">4</text>
<line x1="182.3" y1="2225.4" x2="188.3" y2="2225.4" stroke="#111" stroke-width="2"/>
<line x1="1098.1" y1="2225.4" x2="1104.1" y2="2225.4" stroke="#111" stroke-width="2"/>
<text transform="translate(169.8 2233.7) scale(1.12 1)" text-anchor="end" font-size="19.5">5</text>
<line x1="182.3" y1="2166.68" x2="188.3" y2="2166.68" stroke="#111" stroke-width="2"/>
<line x1="1098.1" y1="2166.68" x2="1104.1" y2="2166.68" stroke="#111" stroke-width="2"/>
<text transform="translate(169.8 2174.98) scale(1.12 1)" text-anchor="end" font-size="19.5">6</text>
<line x1="182.3" y1="2107.96" x2="188.3" y2="2107.96" stroke="#111" stroke-width="2"/>
<line x1="1098.1" y1="2107.96" x2="1104.1" y2="2107.96" stroke="#111" stroke-width="2"/>
<text transform="translate(169.8 2116.26) scale(1.12 1)" text-anchor="end" font-size="19.5">7</text>
<line x1="182.3" y1="2049.24" x2="188.3" y2="2049.24" stroke="#111" stroke-width="2"/>
<line x1="1098.1" y1="2049.24" x2="1104.1" y2="2049.24" stroke="#111" stroke-width="2"/>
<text transform="translate(169.8 2057.54) scale(1.12 1)" text-anchor="end" font-size="19.5">8</text>
<line x1="182.3" y1="1990.52" x2="188.3" y2="1990.52" stroke="#111" stroke-width="2"/>
<line x1="1098.1" y1="1990.52" x2="1104.1" y2="1990.52" stroke="#111" stroke-width="2"/>
<text transform="translate(169.8 1998.82) scale(1.12 1)" text-anchor="end" font-size="19.5">9</text>
<line x1="182.3" y1="1931.8" x2="188.3" y2="1931.8" stroke="#111" stroke-width="2"/>
<line x1="1098.1" y1="1931.8" x2="1104.1" y2="1931.8" stroke="#111" stroke-width="2"/>
<text transform="translate(169.8 1940.1) scale(1.12 1)" text-anchor="end" font-size="19.5">10</text>
<line x1="182.3" y1="2519" x2="182.3" y2="2513" stroke="#111" stroke-width="2"/>
<text transform="translate(182.3 2550.5) scale(1.12 1)" text-anchor="middle" font-size="19.5">0</text>
<line x1="279.39" y1="2519" x2="279.39" y2="2513" stroke="#111" stroke-width="2"/>
<line x1="279.39" y1="1931.8" x2="279.39" y2="1937.8" stroke="#111" stroke-width="2"/>
<text transform="translate(279.39 2550.5) scale(1.12 1)" text-anchor="middle" font-size="19.5">1</text>
<line x1="376.49" y1="2519" x2="376.49" y2="2513" stroke="#111" stroke-width="2"/>
<line x1="376.49" y1="1931.8" x2="376.49" y2="1937.8" stroke="#111" stroke-width="2"/>
<text transform="translate(376.49 2550.5) scale(1.12 1)" text-anchor="middle" font-size="19.5">2</text>
<line x1="473.58" y1="2519" x2="473.58" y2="2513" stroke="#111" stroke-width="2"/>
<line x1="473.58" y1="1931.8" x2="473.58" y2="1937.8" stroke="#111" stroke-width="2"/>
<text transform="translate(473.58 2550.5) scale(1.12 1)" text-anchor="middle" font-size="19.5">3</text>
<line x1="570.67" y1="2519" x2="570.67" y2="2513" stroke="#111" stroke-width="2"/>
<text transform="translate(570.67 2550.5) scale(1.12 1)" text-anchor="middle" font-size="19.5">4</text>
<line x1="667.76" y1="2519" x2="667.76" y2="2513" stroke="#111" stroke-width="2"/>
<text transform="translate(667.76 2550.5) scale(1.12 1)" text-anchor="middle" font-size="19.5">5</text>
<line x1="764.86" y1="2519" x2="764.86" y2="2513" stroke="#111" stroke-width="2"/>
<text transform="translate(764.86 2550.5) scale(1.12 1)" text-anchor="middle" font-size="19.5">6</text>
<line x1="861.95" y1="2519" x2="861.95" y2="2513" stroke="#111" stroke-width="2"/>
<text transform="translate(861.95 2550.5) scale(1.12 1)" text-anchor="middle" font-size="19.5">7</text>
<line x1="959.04" y1="2519" x2="959.04" y2="2513" stroke="#111" stroke-width="2"/>
<text transform="translate(959.04 2550.5) scale(1.12 1)" text-anchor="middle" font-size="19.5">8</text>
<line x1="1056.14" y1="2519" x2="1056.14" y2="2513" stroke="#111" stroke-width="2"/>
<text transform="translate(1056.14 2550.5) scale(1.12 1)" text-anchor="middle" font-size="19.5">9</text>
<text x="193.8" y="1975.8" font-size="43.5" text-anchor="start">Sector 3</text>
<text x="365.5" y="1969.8" font-size="20" text-anchor="start">Mean = 1.852; StdDv = 2.34; Max = 7.8; Min = 0.13</text>
<text x="79.9" y="2221.7" transform="rotate(-90 127.4 2221.7)" font-size="21" textLength="95" lengthAdjust="spacingAndGlyphs">No of obs</text>
<text transform="translate(643.9 2587.5) scale(1.02 1)" text-anchor="middle" font-size="20">Volume (m <tspan font-size="12.5" dy="-9">3</tspan><tspan dy="9">)</tspan></text>
<path d="M926.7 2104.9 L926.7 1958.9 A146 146 0 0 1 1072.41 2114.07 Z" fill="#d8d8d8"/>
<path d="M926.7 2104.9 L1072.41 2114.07 A146 146 0 0 1 899.34 2248.31 Z" fill="#d5e043"/>
<path d="M926.7 2104.9 L899.34 2248.31 A146 146 0 0 1 787.85 2059.78 Z" fill="#2525fb"/>
<path d="M926.7 2104.9 L787.85 2059.78 A146 146 0 0 1 926.7 1958.9 Z" fill="#e01318"/>
<text x="989.6" y="2068" text-anchor="middle" font-size="30.8" font-weight="bold" fill="#404040">26%</text>
<text x="977.4" y="2179.7" text-anchor="middle" font-size="30.8" font-weight="bold" fill="#404040">27%</text>
<text x="848.8" y="2152.6" text-anchor="middle" font-size="30.8" font-weight="bold" fill="#404040">27%</text>
<text x="879.2" y="2048.3" text-anchor="middle" font-size="30.8" font-weight="bold" fill="#404040">20%</text>
<rect x="809.84" y="2273" width="12.6" height="12.6" fill="#d8d8d8"/>
<text x="825.04" y="2285.5" font-size="17.4" font-weight="bold" fill="#555555">&lt;0.5</text>
<rect x="869.89" y="2273" width="12.6" height="12.6" fill="#d5e043"/>
<text x="885.09" y="2285.5" font-size="17.4" font-weight="bold" fill="#555555">0.5-1</text>
<rect x="935.25" y="2273" width="12.6" height="12.6" fill="#2525fb"/>
<text x="950.45" y="2285.5" font-size="17.4" font-weight="bold" fill="#555555">1-2.5</text>
<rect x="1000.61" y="2273" width="12.6" height="12.6" fill="#e01318"/>
<text x="1015.81" y="2285.5" font-size="17.4" font-weight="bold" fill="#555555">&gt;2.5</text>
<text x="928" y="2314.5" text-anchor="middle" font-size="19.2" fill="#555555">Block volume (m<tspan font-size="11" dy="-8">3</tspan><tspan dy="8">)</tspan></text>
<rect x="1319.7" y="1919.6" width="920.3" height="590.4" fill="#fff"/>
<line x1="1319.7" y1="2411.6" x2="2240" y2="2411.6" stroke="#c4c4c4" stroke-width="1" stroke-dasharray="2 2.5"/>
<line x1="1319.7" y1="2313.2" x2="2240" y2="2313.2" stroke="#c4c4c4" stroke-width="1" stroke-dasharray="2 2.5"/>
<line x1="1319.7" y1="2214.8" x2="2240" y2="2214.8" stroke="#c4c4c4" stroke-width="1" stroke-dasharray="2 2.5"/>
<line x1="1319.7" y1="2116.4" x2="2240" y2="2116.4" stroke="#c4c4c4" stroke-width="1" stroke-dasharray="2 2.5"/>
<line x1="1319.7" y1="2018" x2="2240" y2="2018" stroke="#c4c4c4" stroke-width="1" stroke-dasharray="2 2.5"/>
<rect x="1319.7" y="1968.8" width="80.1" height="541.2" fill="#fff"/>
<rect x="1319.7" y="1968.8" width="80.1" height="541.2" fill="url(#hatch)" stroke="#1e1ee8" stroke-width="1.8"/>
<rect x="1399.8" y="2214.8" width="80.1" height="295.2" fill="#fff"/>
<rect x="1399.8" y="2214.8" width="80.1" height="295.2" fill="url(#hatch)" stroke="#1e1ee8" stroke-width="1.8"/>
<rect x="1479.89" y="2411.6" width="80.1" height="98.4" fill="#fff"/>
<rect x="1479.89" y="2411.6" width="80.1" height="98.4" fill="url(#hatch)" stroke="#1e1ee8" stroke-width="1.8"/>
<rect x="1559.99" y="2460.8" width="80.1" height="49.2" fill="#fff"/>
<rect x="1559.99" y="2460.8" width="80.1" height="49.2" fill="url(#hatch)" stroke="#1e1ee8" stroke-width="1.8"/>
<rect x="1640.08" y="2460.8" width="80.1" height="49.2" fill="#fff"/>
<rect x="1640.08" y="2460.8" width="80.1" height="49.2" fill="url(#hatch)" stroke="#1e1ee8" stroke-width="1.8"/>
<rect x="1720.18" y="2460.8" width="80.1" height="49.2" fill="#fff"/>
<rect x="1720.18" y="2460.8" width="80.1" height="49.2" fill="url(#hatch)" stroke="#1e1ee8" stroke-width="1.8"/>
<rect x="2040.56" y="2460.8" width="80.1" height="49.2" fill="#fff"/>
<rect x="2040.56" y="2460.8" width="80.1" height="49.2" fill="url(#hatch)" stroke="#1e1ee8" stroke-width="1.8"/>
<polyline points="1319.7,2360.53 1323.53,2357.86 1327.37,2355.21 1331.2,2352.6 1335.04,2350.02 1338.87,2347.48 1342.71,2344.98 1346.54,2342.52 1350.38,2340.1 1354.21,2337.74 1358.05,2335.43 1361.88,2333.17 1365.72,2330.97 1369.55,2328.83 1373.38,2326.76 1377.22,2324.75 1381.05,2322.81 1384.89,2320.94 1388.72,2319.15 1392.56,2317.44 1396.39,2315.8 1400.23,2314.25 1404.06,2312.78 1407.9,2311.39 1411.73,2310.09 1415.56,2308.88 1419.4,2307.77 1423.23,2306.74 1427.07,2305.81 1430.9,2304.98 1434.74,2304.24 1438.57,2303.6 1442.41,2303.06 1446.24,2302.62 1450.08,2302.28 1453.91,2302.04 1457.75,2301.9 1461.58,2301.87 1465.41,2301.93 1469.25,2302.1 1473.08,2302.36 1476.92,2302.73 1480.75,2303.2 1484.59,2303.76 1488.42,2304.43 1492.26,2305.19 1496.09,2306.05 1499.93,2307.01 1503.76,2308.06 1507.59,2309.2 1511.43,2310.43 1515.26,2311.75 1519.1,2313.16 1522.93,2314.65 1526.77,2316.23 1530.6,2317.89 1534.44,2319.62 1538.27,2321.43 1542.11,2323.32 1545.94,2325.28 1549.78,2327.3 1553.61,2329.4 1557.44,2331.55 1561.28,2333.76 1565.11,2336.04 1568.95,2338.36 1572.78,2340.74 1576.62,2343.17 1580.45,2345.64 1584.29,2348.15 1588.12,2350.7 1591.96,2353.29 1595.79,2355.92 1599.62,2358.57 1603.46,2361.25 1607.29,2363.95 1611.13,2366.67 1614.96,2369.41 1618.8,2372.17 1622.63,2374.94 1626.47,2377.71 1630.3,2380.49 1634.14,2383.28 1637.97,2386.07 1641.81,2388.85 1645.64,2391.63 1649.47,2394.4 1653.31,2397.16 1657.14,2399.91 1660.98,2402.65 1664.81,2405.36 1668.65,2408.06 1672.48,2410.74 1676.32,2413.39 1680.15,2416.02 1683.99,2418.63 1687.82,2421.2 1691.65,2423.74 1695.49,2426.25 1699.32,2428.73 1703.16,2431.17 1706.99,2433.58 1710.83,2435.95 1714.66,2438.28 1718.5,2440.57 1722.33,2442.82 1726.17,2445.03 1730,2447.2 1733.84,2449.32 1737.67,2451.4 1741.5,2453.44 1745.34,2455.43 1749.17,2457.38 1753.01,2459.28 1756.84,2461.14 1760.68,2462.96 1764.51,2464.72 1768.35,2466.45 1772.18,2468.12 1776.02,2469.76 1779.85,2471.35 1783.68,2472.89 1787.52,2474.39 1791.35,2475.84 1795.19,2477.25 1799.02,2478.62 1802.86,2479.95 1806.69,2481.23 1810.53,2482.48 1814.36,2483.68 1818.2,2484.84 1822.03,2485.96 1825.87,2487.04 1829.7,2488.09 1833.53,2489.1 1837.37,2490.07 1841.2,2491 1845.04,2491.9 1848.87,2492.77 1852.71,2493.6 1856.54,2494.4 1860.38,2495.17 1864.21,2495.91 1868.05,2496.61 1871.88,2497.29 1875.71,2497.94 1879.55,2498.56 1883.38,2499.16 1887.22,2499.73 1891.05,2500.27 1894.89,2500.79 1898.72,2501.29 1902.56,2501.76 1906.39,2502.21 1910.23,2502.64 1914.06,2503.05 1917.89,2503.44 1921.73,2503.81 1925.56,2504.17 1929.4,2504.5 1933.23,2504.82 1937.07,2505.12 1940.9,2505.41 1944.74,2505.68 1948.57,2505.94 1952.41,2506.19 1956.24,2506.42 1960.08,2506.64 1963.91,2506.84 1967.74,2507.04 1971.58,2507.23 1975.41,2507.4 1979.25,2507.57 1983.08,2507.72 1986.92,2507.87 1990.75,2508.01 1994.59,2508.14 1998.42,2508.26 2002.26,2508.37 2006.09,2508.48 2009.92,2508.58 2013.76,2508.68 2017.59,2508.77 2021.43,2508.85 2025.26,2508.93 2029.1,2509.01 2032.93,2509.08 2036.77,2509.14 2040.6,2509.2 2044.44,2509.26 2048.27,2509.31 2052.11,2509.36 2055.94,2509.41 2059.77,2509.45 2063.61,2509.49 2067.44,2509.53 2071.28,2509.56 2075.11,2509.6 2078.95,2509.63 2082.78,2509.66 2086.62,2509.68 2090.45,2509.71 2094.29,2509.73 2098.12,2509.75 2101.95,2509.77 2105.79,2509.79 2109.62,2509.8 2113.46,2509.82 2117.29,2509.83 2121.13,2509.85 2124.96,2509.86 2128.8,2509.87 2132.63,2509.88 2136.47,2509.89 2140.3,2509.9 2144.14,2509.91 2147.97,2509.92 2151.8,2509.92 2155.64,2509.93 2159.47,2509.94 2163.31,2509.94 2167.14,2509.95 2170.98,2509.95 2174.81,2509.96 2178.65,2509.96 2182.48,2509.96 2186.32,2509.97 2190.15,2509.97 2193.99,2509.97 2197.82,2509.97 2201.65,2509.98 2205.49,2509.98 2209.32,2509.98 2213.16,2509.98 2216.99,2509.98 2220.83,2509.99 2224.66,2509.99 2228.5,2509.99 2232.33,2509.99 2236.17,2509.99 2240,2509.99" fill="none" stroke="#dc1f26" stroke-width="2"/>
<rect x="1319.7" y="1919.6" width="920.3" height="590.4" fill="none" stroke="#111" stroke-width="2"/>
<line x1="1319.7" y1="2510" x2="1325.7" y2="2510" stroke="#111" stroke-width="2"/>
<line x1="2234" y1="2510" x2="2240" y2="2510" stroke="#111" stroke-width="2"/>
<text transform="translate(1307.2 2518.3) scale(1.22 1)" text-anchor="end" font-size="19.5">0</text>
<line x1="1319.7" y1="2411.6" x2="1325.7" y2="2411.6" stroke="#111" stroke-width="2"/>
<line x1="2234" y1="2411.6" x2="2240" y2="2411.6" stroke="#111" stroke-width="2"/>
<text transform="translate(1307.2 2419.9) scale(1.22 1)" text-anchor="end" font-size="19.5">2</text>
<line x1="1319.7" y1="2313.2" x2="1325.7" y2="2313.2" stroke="#111" stroke-width="2"/>
<line x1="2234" y1="2313.2" x2="2240" y2="2313.2" stroke="#111" stroke-width="2"/>
<text transform="translate(1307.2 2321.5) scale(1.22 1)" text-anchor="end" font-size="19.5">4</text>
<line x1="1319.7" y1="2214.8" x2="1325.7" y2="2214.8" stroke="#111" stroke-width="2"/>
<line x1="2234" y1="2214.8" x2="2240" y2="2214.8" stroke="#111" stroke-width="2"/>
<text transform="translate(1307.2 2223.1) scale(1.22 1)" text-anchor="end" font-size="19.5">6</text>
<line x1="1319.7" y1="2116.4" x2="1325.7" y2="2116.4" stroke="#111" stroke-width="2"/>
<line x1="2234" y1="2116.4" x2="2240" y2="2116.4" stroke="#111" stroke-width="2"/>
<text transform="translate(1307.2 2124.7) scale(1.22 1)" text-anchor="end" font-size="19.5">8</text>
<line x1="1319.7" y1="2018" x2="1325.7" y2="2018" stroke="#111" stroke-width="2"/>
<line x1="2234" y1="2018" x2="2240" y2="2018" stroke="#111" stroke-width="2"/>
<text transform="translate(1307.2 2026.3) scale(1.22 1)" text-anchor="end" font-size="19.5">10</text>
<line x1="1319.7" y1="1919.6" x2="1325.7" y2="1919.6" stroke="#111" stroke-width="2"/>
<line x1="2234" y1="1919.6" x2="2240" y2="1919.6" stroke="#111" stroke-width="2"/>
<text transform="translate(1307.2 1927.9) scale(1.22 1)" text-anchor="end" font-size="19.5">12</text>
<line x1="1319.7" y1="2510" x2="1319.7" y2="2504" stroke="#111" stroke-width="2"/>
<text transform="translate(1319.7 2538.8) scale(1.22 1)" text-anchor="middle" font-size="19.5">0</text>
<line x1="1399.8" y1="2510" x2="1399.8" y2="2504" stroke="#111" stroke-width="2"/>
<line x1="1399.8" y1="1919.6" x2="1399.8" y2="1925.6" stroke="#111" stroke-width="2"/>
<text transform="translate(1399.8 2538.8) scale(1.22 1)" text-anchor="middle" font-size="19.5">1</text>
<line x1="1479.89" y1="2510" x2="1479.89" y2="2504" stroke="#111" stroke-width="2"/>
<line x1="1479.89" y1="1919.6" x2="1479.89" y2="1925.6" stroke="#111" stroke-width="2"/>
<text transform="translate(1479.89 2538.8) scale(1.22 1)" text-anchor="middle" font-size="19.5">2</text>
<line x1="1559.99" y1="2510" x2="1559.99" y2="2504" stroke="#111" stroke-width="2"/>
<text transform="translate(1559.99 2538.8) scale(1.22 1)" text-anchor="middle" font-size="19.5">3</text>
<line x1="1640.08" y1="2510" x2="1640.08" y2="2504" stroke="#111" stroke-width="2"/>
<text transform="translate(1640.08 2538.8) scale(1.22 1)" text-anchor="middle" font-size="19.5">4</text>
<line x1="1720.18" y1="2510" x2="1720.18" y2="2504" stroke="#111" stroke-width="2"/>
<text transform="translate(1720.18 2538.8) scale(1.22 1)" text-anchor="middle" font-size="19.5">5</text>
<line x1="1800.27" y1="2510" x2="1800.27" y2="2504" stroke="#111" stroke-width="2"/>
<text transform="translate(1800.27 2538.8) scale(1.22 1)" text-anchor="middle" font-size="19.5">6</text>
<line x1="1880.37" y1="2510" x2="1880.37" y2="2504" stroke="#111" stroke-width="2"/>
<text transform="translate(1880.37 2538.8) scale(1.22 1)" text-anchor="middle" font-size="19.5">7</text>
<line x1="1960.47" y1="2510" x2="1960.47" y2="2504" stroke="#111" stroke-width="2"/>
<text transform="translate(1960.47 2538.8) scale(1.22 1)" text-anchor="middle" font-size="19.5">8</text>
<line x1="2040.56" y1="2510" x2="2040.56" y2="2504" stroke="#111" stroke-width="2"/>
<text transform="translate(2040.56 2538.8) scale(1.22 1)" text-anchor="middle" font-size="19.5">9</text>
<line x1="2120.66" y1="2510" x2="2120.66" y2="2504" stroke="#111" stroke-width="2"/>
<text transform="translate(2120.66 2538.8) scale(1.22 1)" text-anchor="middle" font-size="19.5">10</text>
<line x1="2200.75" y1="2510" x2="2200.75" y2="2504" stroke="#111" stroke-width="2"/>
<text transform="translate(2200.75 2538.8) scale(1.22 1)" text-anchor="middle" font-size="19.5">11</text>
<text x="1334.4" y="1961.8" font-size="43.6" text-anchor="start">Sector 4</text>
<text x="1504.6" y="1961.8" font-size="21.75" text-anchor="start">Mean = 1.765; StdDv = 2.169; Max = 9.2; Min = 0.038</text>
<text x="1225.7" y="2216" transform="rotate(-90 1267.7 2216)" font-size="21" textLength="84" lengthAdjust="spacingAndGlyphs">No of obs</text>
<text transform="translate(1779 2578.8) scale(1.12 1)" text-anchor="middle" font-size="20">Volumes (m<tspan font-size="12.5" dy="-9">3</tspan><tspan dy="9">)</tspan></text>
<path d="M2071.5 2114 L2071.5 1968 A146 146 0 0 1 2189.62 2199.82 Z" fill="#d8d8d8"/>
<path d="M2071.5 2114 L2189.62 2199.82 A146 146 0 0 1 2089.8 2258.85 Z" fill="#d5e043"/>
<path d="M2071.5 2114 L2089.8 2258.85 A146 146 0 0 1 1928.09 2086.64 Z" fill="#2525fb"/>
<path d="M2071.5 2114 L1928.09 2086.64 A146 146 0 0 1 2071.5 1968 Z" fill="#e01318"/>
<text x="2146.6" y="2089.5" text-anchor="middle" font-size="30.8" font-weight="bold" fill="#404040">35%</text>
<text x="2120" y="2193.4" text-anchor="middle" font-size="30.8" font-weight="bold" fill="#404040">13%</text>
<text x="2015.3" y="2179.4" text-anchor="middle" font-size="30.8" font-weight="bold" fill="#404040">30%</text>
<text x="2016.7" y="2058" text-anchor="middle" font-size="30.8" font-weight="bold" fill="#404040">22%</text>
<rect x="1947.84" y="2276.3" width="12.6" height="12.6" fill="#d8d8d8"/>
<text x="1963.04" y="2288.8" font-size="17.4" font-weight="bold" fill="#555555">&lt;0.5</text>
<rect x="2007.89" y="2276.3" width="12.6" height="12.6" fill="#d5e043"/>
<text x="2023.09" y="2288.8" font-size="17.4" font-weight="bold" fill="#555555">0.5-1</text>
<rect x="2073.25" y="2276.3" width="12.6" height="12.6" fill="#2525fb"/>
<text x="2088.45" y="2288.8" font-size="17.4" font-weight="bold" fill="#555555">1-2.5</text>
<rect x="2138.61" y="2276.3" width="12.6" height="12.6" fill="#e01318"/>
<text x="2153.81" y="2288.8" font-size="17.4" font-weight="bold" fill="#555555">&gt;2.5</text>
<text x="2072" y="2316.3" text-anchor="middle" font-size="19.2" fill="#555555">Block volume (m<tspan font-size="11" dy="-8">3</tspan><tspan dy="8">)</tspan></text>
<rect x="168.7" y="2622.5" width="935.4" height="588.6" fill="#fff"/>
<line x1="168.7" y1="3014.9" x2="1104.1" y2="3014.9" stroke="#c4c4c4" stroke-width="1" stroke-dasharray="2 2.5"/>
<line x1="168.7" y1="2818.7" x2="1104.1" y2="2818.7" stroke="#c4c4c4" stroke-width="1" stroke-dasharray="2 2.5"/>
<rect x="276.55" y="3014.9" width="71.9" height="196.2" fill="#fff"/>
<rect x="276.55" y="3014.9" width="71.9" height="196.2" fill="url(#hatch)" stroke="#1e1ee8" stroke-width="1.8"/>
<rect x="348.45" y="3014.9" width="71.9" height="196.2" fill="#fff"/>
<rect x="348.45" y="3014.9" width="71.9" height="196.2" fill="url(#hatch)" stroke="#1e1ee8" stroke-width="1.8"/>
<rect x="636.04" y="3014.9" width="71.9" height="196.2" fill="#fff"/>
<rect x="636.04" y="3014.9" width="71.9" height="196.2" fill="url(#hatch)" stroke="#1e1ee8" stroke-width="1.8"/>
<rect x="779.84" y="3014.9" width="71.9" height="196.2" fill="#fff"/>
<rect x="779.84" y="3014.9" width="71.9" height="196.2" fill="url(#hatch)" stroke="#1e1ee8" stroke-width="1.8"/>
<rect x="851.74" y="2818.7" width="71.9" height="392.4" fill="#fff"/>
<rect x="851.74" y="2818.7" width="71.9" height="392.4" fill="url(#hatch)" stroke="#1e1ee8" stroke-width="1.8"/>
<rect x="923.63" y="3014.9" width="71.9" height="196.2" fill="#fff"/>
<rect x="923.63" y="3014.9" width="71.9" height="196.2" fill="url(#hatch)" stroke="#1e1ee8" stroke-width="1.8"/>
<polyline points="168.7,3194.14 172.6,3193.59 176.49,3193.03 180.39,3192.46 184.29,3191.87 188.19,3191.26 192.08,3190.65 195.98,3190.01 199.88,3189.37 203.78,3188.71 207.67,3188.03 211.57,3187.34 215.47,3186.63 219.37,3185.91 223.26,3185.18 227.16,3184.43 231.06,3183.66 234.96,3182.88 238.85,3182.08 242.75,3181.27 246.65,3180.44 250.55,3179.59 254.44,3178.73 258.34,3177.85 262.24,3176.96 266.14,3176.05 270.03,3175.13 273.93,3174.19 277.83,3173.23 281.73,3172.26 285.62,3171.27 289.52,3170.27 293.42,3169.25 297.32,3168.22 301.21,3167.17 305.11,3166.1 309.01,3165.02 312.91,3163.93 316.8,3162.82 320.7,3161.69 324.6,3160.55 328.5,3159.4 332.39,3158.23 336.29,3157.05 340.19,3155.86 344.09,3154.65 347.99,3153.43 351.88,3152.19 355.78,3150.95 359.68,3149.69 363.57,3148.42 367.47,3147.13 371.37,3145.84 375.27,3144.54 379.16,3143.22 383.06,3141.9 386.96,3140.56 390.86,3139.22 394.75,3137.87 398.65,3136.51 402.55,3135.14 406.45,3133.77 410.34,3132.39 414.24,3131 418.14,3129.61 422.04,3128.21 425.93,3126.8 429.83,3125.4 433.73,3123.99 437.63,3122.57 441.52,3121.16 445.42,3119.74 449.32,3118.33 453.22,3116.91 457.12,3115.49 461.01,3114.08 464.91,3112.66 468.81,3111.25 472.7,3109.84 476.6,3108.44 480.5,3107.04 484.4,3105.64 488.29,3104.25 492.19,3102.87 496.09,3101.5 499.99,3100.13 503.88,3098.77 507.78,3097.43 511.68,3096.09 515.58,3094.76 519.47,3093.45 523.37,3092.15 527.27,3090.86 531.17,3089.59 535.06,3088.33 538.96,3087.08 542.86,3085.86 546.76,3084.65 550.65,3083.46 554.55,3082.28 558.45,3081.13 562.35,3079.99 566.24,3078.88 570.14,3077.79 574.04,3076.72 577.94,3075.67 581.84,3074.65 585.73,3073.65 589.63,3072.67 593.53,3071.72 597.42,3070.8 601.32,3069.9 605.22,3069.03 609.12,3068.19 613.01,3067.37 616.91,3066.59 620.81,3065.83 624.71,3065.1 628.61,3064.41 632.5,3063.74 636.4,3063.11 640.3,3062.51 644.19,3061.93 648.09,3061.4 651.99,3060.89 655.89,3060.42 659.78,3059.98 663.68,3059.57 667.58,3059.2 671.48,3058.87 675.37,3058.56 679.27,3058.3 683.17,3058.06 687.07,3057.87 690.96,3057.7 694.86,3057.58 698.76,3057.49 702.66,3057.43 706.55,3057.41 710.45,3057.42 714.35,3057.47 718.25,3057.56 722.14,3057.68 726.04,3057.84 729.94,3058.03 733.84,3058.26 737.73,3058.52 741.63,3058.82 745.53,3059.15 749.43,3059.51 753.32,3059.91 757.22,3060.35 761.12,3060.81 765.02,3061.31 768.91,3061.85 772.81,3062.41 776.71,3063.01 780.61,3063.64 784.5,3064.3 788.4,3064.99 792.3,3065.71 796.2,3066.47 800.1,3067.25 803.99,3068.06 807.89,3068.9 811.79,3069.76 815.68,3070.66 819.58,3071.58 823.48,3072.52 827.38,3073.49 831.27,3074.49 835.17,3075.51 839.07,3076.55 842.97,3077.62 846.86,3078.71 850.76,3079.82 854.66,3080.95 858.56,3082.1 862.45,3083.27 866.35,3084.46 870.25,3085.67 874.15,3086.89 878.04,3088.13 881.94,3089.39 885.84,3090.66 889.74,3091.95 893.63,3093.25 897.53,3094.56 901.43,3095.88 905.33,3097.22 909.22,3098.56 913.12,3099.92 917.02,3101.28 920.92,3102.66 924.81,3104.04 928.71,3105.42 932.61,3106.82 936.51,3108.22 940.4,3109.62 944.3,3111.03 948.2,3112.44 952.1,3113.85 955.99,3115.27 959.89,3116.69 963.79,3118.1 967.69,3119.52 971.59,3120.94 975.48,3122.35 979.38,3123.77 983.28,3125.18 987.17,3126.58 991.07,3127.99 994.97,3129.39 998.87,3130.78 1002.76,3132.17 1006.66,3133.55 1010.56,3134.93 1014.46,3136.3 1018.36,3137.66 1022.25,3139.01 1026.15,3140.35 1030.05,3141.69 1033.94,3143.02 1037.84,3144.33 1041.74,3145.64 1045.64,3146.93 1049.53,3148.22 1053.43,3149.49 1057.33,3150.75 1061.23,3152 1065.12,3153.23 1069.02,3154.46 1072.92,3155.67 1076.82,3156.87 1080.71,3158.05 1084.61,3159.22 1088.51,3160.37 1092.41,3161.52 1096.3,3162.64 1100.2,3163.75 1104.1,3164.85" fill="none" stroke="#dc1f26" stroke-width="2"/>
<rect x="168.7" y="2622.5" width="935.4" height="588.6" fill="none" stroke="#111" stroke-width="2"/>
<line x1="168.7" y1="3211.1" x2="174.7" y2="3211.1" stroke="#111" stroke-width="2"/>
<line x1="1098.1" y1="3211.1" x2="1104.1" y2="3211.1" stroke="#111" stroke-width="2"/>
<text transform="translate(156.2 3219.4) scale(1.1 1)" text-anchor="end" font-size="19.5">0</text>
<line x1="168.7" y1="3014.9" x2="174.7" y2="3014.9" stroke="#111" stroke-width="2"/>
<line x1="1098.1" y1="3014.9" x2="1104.1" y2="3014.9" stroke="#111" stroke-width="2"/>
<text transform="translate(156.2 3023.2) scale(1.1 1)" text-anchor="end" font-size="19.5">1</text>
<line x1="168.7" y1="2818.7" x2="174.7" y2="2818.7" stroke="#111" stroke-width="2"/>
<line x1="1098.1" y1="2818.7" x2="1104.1" y2="2818.7" stroke="#111" stroke-width="2"/>
<text transform="translate(156.2 2827) scale(1.1 1)" text-anchor="end" font-size="19.5">2</text>
<line x1="168.7" y1="2622.5" x2="174.7" y2="2622.5" stroke="#111" stroke-width="2"/>
<line x1="1098.1" y1="2622.5" x2="1104.1" y2="2622.5" stroke="#111" stroke-width="2"/>
<text transform="translate(156.2 2630.8) scale(1.1 1)" text-anchor="end" font-size="19.5">3</text>
<line x1="204.65" y1="3211.1" x2="204.65" y2="3205.1" stroke="#111" stroke-width="2"/>
<text transform="translate(204.65 3242.5) scale(1.1 1)" text-anchor="middle" font-size="19.5">-0.2</text>
<line x1="276.55" y1="3211.1" x2="276.55" y2="3205.1" stroke="#111" stroke-width="2"/>
<text transform="translate(276.55 3242.5) scale(1.1 1)" text-anchor="middle" font-size="19.5">0.0</text>
<line x1="348.45" y1="3211.1" x2="348.45" y2="3205.1" stroke="#111" stroke-width="2"/>
<text transform="translate(348.45 3242.5) scale(1.1 1)" text-anchor="middle" font-size="19.5">0.2</text>
<line x1="420.34" y1="3211.1" x2="420.34" y2="3205.1" stroke="#111" stroke-width="2"/>
<text transform="translate(420.34 3242.5) scale(1.1 1)" text-anchor="middle" font-size="19.5">0.4</text>
<line x1="492.24" y1="3211.1" x2="492.24" y2="3205.1" stroke="#111" stroke-width="2"/>
<text transform="translate(492.24 3242.5) scale(1.1 1)" text-anchor="middle" font-size="19.5">0.6</text>
<line x1="564.14" y1="3211.1" x2="564.14" y2="3205.1" stroke="#111" stroke-width="2"/>
<text transform="translate(564.14 3242.5) scale(1.1 1)" text-anchor="middle" font-size="19.5">0.8</text>
<line x1="636.04" y1="3211.1" x2="636.04" y2="3205.1" stroke="#111" stroke-width="2"/>
<text transform="translate(636.04 3242.5) scale(1.1 1)" text-anchor="middle" font-size="19.5">1.0</text>
<line x1="707.94" y1="3211.1" x2="707.94" y2="3205.1" stroke="#111" stroke-width="2"/>
<text transform="translate(707.94 3242.5) scale(1.1 1)" text-anchor="middle" font-size="19.5">1.2</text>
<line x1="779.84" y1="3211.1" x2="779.84" y2="3205.1" stroke="#111" stroke-width="2"/>
<text transform="translate(779.84 3242.5) scale(1.1 1)" text-anchor="middle" font-size="19.5">1.4</text>
<line x1="851.74" y1="3211.1" x2="851.74" y2="3205.1" stroke="#111" stroke-width="2"/>
<text transform="translate(851.74 3242.5) scale(1.1 1)" text-anchor="middle" font-size="19.5">1.6</text>
<line x1="923.63" y1="3211.1" x2="923.63" y2="3205.1" stroke="#111" stroke-width="2"/>
<text transform="translate(923.63 3242.5) scale(1.1 1)" text-anchor="middle" font-size="19.5">1.8</text>
<line x1="995.53" y1="3211.1" x2="995.53" y2="3205.1" stroke="#111" stroke-width="2"/>
<text transform="translate(995.53 3242.5) scale(1.1 1)" text-anchor="middle" font-size="19.5">2.0</text>
<line x1="1067.43" y1="3211.1" x2="1067.43" y2="3205.1" stroke="#111" stroke-width="2"/>
<text transform="translate(1067.43 3242.5) scale(1.1 1)" text-anchor="middle" font-size="19.5">2.2</text>
<text x="1095.5" y="2661.1" font-size="43.7" text-anchor="end">Sector 5</text>
<text x="1081.8" y="2691.6" font-size="19.9" text-anchor="end">Mean = 1.197; StdDv = 0.713; Max = 1.88; Min = 0.11</text>
<text x="79.9" y="2911.7" transform="rotate(-90 127.4 2911.7)" font-size="21" textLength="95" lengthAdjust="spacingAndGlyphs">No of obs</text>
<text transform="translate(637.4 3280.9) scale(1 1)" text-anchor="middle" font-size="20">Volume (m <tspan font-size="12.5" dy="-9">3</tspan><tspan dy="9">)</tspan></text>
<path d="M350.3 2787.8 L350.3 2641.5 A146.3 146.3 0 0 1 492.93 2820.35 Z" fill="#d8d8d8"/>
<path d="M350.3 2787.8 L492.93 2820.35 A146.3 146.3 0 1 1 350.3 2641.5 Z" fill="#2525fb"/>
<text x="422" y="2749.2" text-anchor="middle" font-size="30.8" font-weight="bold" fill="#404040">29%</text>
<text x="308.3" y="2840.6" text-anchor="middle" font-size="30.8" font-weight="bold" fill="#404040">71%</text>
<rect x="217.24" y="2947.4" width="12.6" height="12.6" fill="#d8d8d8"/>
<text x="232.44" y="2959.9" font-size="17.4" font-weight="bold" fill="#555555">&lt;0.5</text>
<rect x="277.29" y="2947.4" width="12.6" height="12.6" fill="#d5e043"/>
<text x="292.49" y="2959.9" font-size="17.4" font-weight="bold" fill="#555555">0.5-1</text>
<rect x="342.65" y="2947.4" width="12.6" height="12.6" fill="#2525fb"/>
<text x="357.85" y="2959.9" font-size="17.4" font-weight="bold" fill="#555555">1-2.5</text>
<rect x="408.01" y="2947.4" width="12.6" height="12.6" fill="#e01318"/>
<text x="423.21" y="2959.9" font-size="17.4" font-weight="bold" fill="#555555">&gt;2.5</text>
<text x="340.8" y="2988.3" text-anchor="middle" font-size="19.2" fill="#555555">Block volume (m<tspan font-size="11" dy="-8">3</tspan><tspan dy="8">)</tspan></text>
<rect x="1299.3" y="2621.6" width="932.2" height="586.8" fill="#fff"/>
<line x1="1299.3" y1="3061.7" x2="2231.5" y2="3061.7" stroke="#c4c4c4" stroke-width="1" stroke-dasharray="2 2.5"/>
<line x1="1299.3" y1="2915" x2="2231.5" y2="2915" stroke="#c4c4c4" stroke-width="1" stroke-dasharray="2 2.5"/>
<line x1="1299.3" y1="2768.3" x2="2231.5" y2="2768.3" stroke="#c4c4c4" stroke-width="1" stroke-dasharray="2 2.5"/>
<rect x="1299.3" y="2915" width="64.29" height="293.4" fill="#fff"/>
<rect x="1299.3" y="2915" width="64.29" height="293.4" fill="url(#hatch)" stroke="#1e1ee8" stroke-width="1.8"/>
<rect x="1363.59" y="2768.3" width="64.29" height="440.1" fill="#fff"/>
<rect x="1363.59" y="2768.3" width="64.29" height="440.1" fill="url(#hatch)" stroke="#1e1ee8" stroke-width="1.8"/>
<rect x="1427.88" y="2768.3" width="64.29" height="440.1" fill="#fff"/>
<rect x="1427.88" y="2768.3" width="64.29" height="440.1" fill="url(#hatch)" stroke="#1e1ee8" stroke-width="1.8"/>
<rect x="1492.17" y="2915" width="64.29" height="293.4" fill="#fff"/>
<rect x="1492.17" y="2915" width="64.29" height="293.4" fill="url(#hatch)" stroke="#1e1ee8" stroke-width="1.8"/>
<rect x="1685.04" y="3061.7" width="64.29" height="146.7" fill="#fff"/>
<rect x="1685.04" y="3061.7" width="64.29" height="146.7" fill="url(#hatch)" stroke="#1e1ee8" stroke-width="1.8"/>
<rect x="2006.49" y="3061.7" width="64.29" height="146.7" fill="#fff"/>
<rect x="2006.49" y="3061.7" width="64.29" height="146.7" fill="url(#hatch)" stroke="#1e1ee8" stroke-width="1.8"/>
<rect x="2070.78" y="3061.7" width="64.29" height="146.7" fill="#fff"/>
<rect x="2070.78" y="3061.7" width="64.29" height="146.7" fill="url(#hatch)" stroke="#1e1ee8" stroke-width="1.8"/>
<polyline points="1299.3,3091.4 1303.18,3089.49 1307.07,3087.57 1310.95,3085.66 1314.84,3083.74 1318.72,3081.83 1322.61,3079.92 1326.49,3078.01 1330.37,3076.11 1334.26,3074.22 1338.14,3072.33 1342.03,3070.45 1345.91,3068.58 1349.79,3066.72 1353.68,3064.87 1357.56,3063.03 1361.45,3061.21 1365.33,3059.4 1369.21,3057.6 1373.1,3055.83 1376.98,3054.07 1380.87,3052.33 1384.75,3050.61 1388.64,3048.91 1392.52,3047.23 1396.4,3045.58 1400.29,3043.95 1404.17,3042.34 1408.06,3040.76 1411.94,3039.21 1415.83,3037.69 1419.71,3036.2 1423.59,3034.74 1427.48,3033.3 1431.36,3031.91 1435.25,3030.54 1439.13,3029.21 1443.01,3027.92 1446.9,3026.66 1450.78,3025.44 1454.67,3024.25 1458.55,3023.11 1462.43,3022 1466.32,3020.94 1470.2,3019.91 1474.09,3018.93 1477.97,3017.99 1481.86,3017.1 1485.74,3016.25 1489.62,3015.44 1493.51,3014.68 1497.39,3013.96 1501.28,3013.29 1505.16,3012.67 1509.05,3012.09 1512.93,3011.56 1516.81,3011.08 1520.7,3010.65 1524.58,3010.27 1528.47,3009.93 1532.35,3009.65 1536.23,3009.41 1540.12,3009.23 1544,3009.09 1547.89,3009.01 1551.77,3008.97 1555.65,3008.99 1559.54,3009.05 1563.42,3009.16 1567.31,3009.33 1571.19,3009.54 1575.08,3009.81 1578.96,3010.12 1582.84,3010.48 1586.73,3010.89 1590.61,3011.35 1594.5,3011.86 1598.38,3012.41 1602.26,3013.02 1606.15,3013.67 1610.03,3014.36 1613.92,3015.11 1617.8,3015.89 1621.69,3016.73 1625.57,3017.6 1629.45,3018.52 1633.34,3019.49 1637.22,3020.49 1641.11,3021.54 1644.99,3022.63 1648.88,3023.76 1652.76,3024.93 1656.64,3026.13 1660.53,3027.37 1664.41,3028.65 1668.3,3029.97 1672.18,3031.32 1676.06,3032.7 1679.95,3034.12 1683.83,3035.57 1687.72,3037.05 1691.6,3038.56 1695.49,3040.1 1699.37,3041.66 1703.25,3043.26 1707.14,3044.88 1711.02,3046.52 1714.91,3048.19 1718.79,3049.88 1722.67,3051.59 1726.56,3053.32 1730.44,3055.07 1734.33,3056.84 1738.21,3058.63 1742.1,3060.43 1745.98,3062.25 1749.86,3064.08 1753.75,3065.93 1757.63,3067.78 1761.52,3069.65 1765.4,3071.52 1769.28,3073.41 1773.17,3075.3 1777.05,3077.2 1780.94,3079.1 1784.82,3081.01 1788.7,3082.92 1792.59,3084.84 1796.47,3086.75 1800.36,3088.67 1804.24,3090.58 1808.13,3092.5 1812.01,3094.41 1815.89,3096.32 1819.78,3098.22 1823.66,3100.12 1827.55,3102.01 1831.43,3103.89 1835.32,3105.77 1839.2,3107.64 1843.08,3109.5 1846.97,3111.35 1850.85,3113.19 1854.74,3115.02 1858.62,3116.83 1862.5,3118.64 1866.39,3120.42 1870.27,3122.2 1874.16,3123.96 1878.04,3125.71 1881.92,3127.44 1885.81,3129.15 1889.69,3130.85 1893.58,3132.53 1897.46,3134.19 1901.35,3135.83 1905.23,3137.46 1909.11,3139.06 1913,3140.65 1916.88,3142.21 1920.77,3143.76 1924.65,3145.29 1928.54,3146.79 1932.42,3148.28 1936.3,3149.74 1940.19,3151.18 1944.07,3152.61 1947.96,3154.01 1951.84,3155.38 1955.72,3156.74 1959.61,3158.07 1963.49,3159.38 1967.38,3160.67 1971.26,3161.94 1975.14,3163.18 1979.03,3164.41 1982.91,3165.61 1986.8,3166.79 1990.68,3167.94 1994.57,3169.07 1998.45,3170.19 2002.33,3171.27 2006.22,3172.34 2010.1,3173.39 2013.99,3174.41 2017.87,3175.41 2021.76,3176.39 2025.64,3177.35 2029.52,3178.29 2033.41,3179.21 2037.29,3180.1 2041.18,3180.98 2045.06,3181.83 2048.94,3182.67 2052.83,3183.48 2056.71,3184.28 2060.6,3185.05 2064.48,3185.81 2068.36,3186.55 2072.25,3187.26 2076.13,3187.96 2080.02,3188.65 2083.9,3189.31 2087.79,3189.96 2091.67,3190.58 2095.55,3191.2 2099.44,3191.79 2103.32,3192.37 2107.21,3192.93 2111.09,3193.48 2114.98,3194.01 2118.86,3194.52 2122.74,3195.02 2126.63,3195.51 2130.51,3195.98 2134.4,3196.43 2138.28,3196.88 2142.16,3197.31 2146.05,3197.72 2149.93,3198.12 2153.82,3198.51 2157.7,3198.89 2161.59,3199.26 2165.47,3199.61 2169.35,3199.95 2173.24,3200.28 2177.12,3200.6 2181.01,3200.91 2184.89,3201.21 2188.77,3201.5 2192.66,3201.78 2196.54,3202.05 2200.43,3202.31 2204.31,3202.56 2208.2,3202.8 2212.08,3203.03 2215.96,3203.26 2219.85,3203.47 2223.73,3203.68 2227.62,3203.88 2231.5,3204.07" fill="none" stroke="#dc1f26" stroke-width="2"/>
<rect x="1299.3" y="2621.6" width="932.2" height="586.8" fill="none" stroke="#111" stroke-width="2"/>
<line x1="1299.3" y1="3208.4" x2="1305.3" y2="3208.4" stroke="#111" stroke-width="2"/>
<line x1="2225.5" y1="3208.4" x2="2231.5" y2="3208.4" stroke="#111" stroke-width="2"/>
<text transform="translate(1286.8 3216.7) scale(1.1 1)" text-anchor="end" font-size="19.5">0</text>
<line x1="1299.3" y1="3061.7" x2="1305.3" y2="3061.7" stroke="#111" stroke-width="2"/>
<line x1="2225.5" y1="3061.7" x2="2231.5" y2="3061.7" stroke="#111" stroke-width="2"/>
<text transform="translate(1286.8 3070) scale(1.1 1)" text-anchor="end" font-size="19.5">1</text>
<line x1="1299.3" y1="2915" x2="1305.3" y2="2915" stroke="#111" stroke-width="2"/>
<line x1="2225.5" y1="2915" x2="2231.5" y2="2915" stroke="#111" stroke-width="2"/>
<text transform="translate(1286.8 2923.3) scale(1.1 1)" text-anchor="end" font-size="19.5">2</text>
<line x1="1299.3" y1="2768.3" x2="1305.3" y2="2768.3" stroke="#111" stroke-width="2"/>
<line x1="2225.5" y1="2768.3" x2="2231.5" y2="2768.3" stroke="#111" stroke-width="2"/>
<text transform="translate(1286.8 2776.6) scale(1.1 1)" text-anchor="end" font-size="19.5">3</text>
<line x1="1299.3" y1="2621.6" x2="1305.3" y2="2621.6" stroke="#111" stroke-width="2"/>
<line x1="2225.5" y1="2621.6" x2="2231.5" y2="2621.6" stroke="#111" stroke-width="2"/>
<text transform="translate(1286.8 2629.9) scale(1.1 1)" text-anchor="end" font-size="19.5">4</text>
<line x1="1299.3" y1="3208.4" x2="1299.3" y2="3202.4" stroke="#111" stroke-width="2"/>
<text transform="translate(1299.3 3239.3) scale(1.1 1)" text-anchor="middle" font-size="19.5">0.0</text>
<line x1="1363.59" y1="3208.4" x2="1363.59" y2="3202.4" stroke="#111" stroke-width="2"/>
<line x1="1363.59" y1="2621.6" x2="1363.59" y2="2627.6" stroke="#111" stroke-width="2"/>
<text transform="translate(1363.59 3239.3) scale(1.1 1)" text-anchor="middle" font-size="19.5">0.2</text>
<line x1="1427.88" y1="3208.4" x2="1427.88" y2="3202.4" stroke="#111" stroke-width="2"/>
<line x1="1427.88" y1="2621.6" x2="1427.88" y2="2627.6" stroke="#111" stroke-width="2"/>
<text transform="translate(1427.88 3239.3) scale(1.1 1)" text-anchor="middle" font-size="19.5">0.4</text>
<line x1="1492.17" y1="3208.4" x2="1492.17" y2="3202.4" stroke="#111" stroke-width="2"/>
<line x1="1492.17" y1="2621.6" x2="1492.17" y2="2627.6" stroke="#111" stroke-width="2"/>
<text transform="translate(1492.17 3239.3) scale(1.1 1)" text-anchor="middle" font-size="19.5">0.6</text>
<line x1="1556.46" y1="3208.4" x2="1556.46" y2="3202.4" stroke="#111" stroke-width="2"/>
<line x1="1556.46" y1="2621.6" x2="1556.46" y2="2627.6" stroke="#111" stroke-width="2"/>
<text transform="translate(1556.46 3239.3) scale(1.1 1)" text-anchor="middle" font-size="19.5">0.8</text>
<line x1="1620.75" y1="3208.4" x2="1620.75" y2="3202.4" stroke="#111" stroke-width="2"/>
<line x1="1620.75" y1="2621.6" x2="1620.75" y2="2627.6" stroke="#111" stroke-width="2"/>
<text transform="translate(1620.75 3239.3) scale(1.1 1)" text-anchor="middle" font-size="19.5">1.0</text>
<line x1="1685.04" y1="3208.4" x2="1685.04" y2="3202.4" stroke="#111" stroke-width="2"/>
<line x1="1685.04" y1="2621.6" x2="1685.04" y2="2627.6" stroke="#111" stroke-width="2"/>
<text transform="translate(1685.04 3239.3) scale(1.1 1)" text-anchor="middle" font-size="19.5">1.2</text>
<line x1="1749.33" y1="3208.4" x2="1749.33" y2="3202.4" stroke="#111" stroke-width="2"/>
<line x1="1749.33" y1="2621.6" x2="1749.33" y2="2627.6" stroke="#111" stroke-width="2"/>
<text transform="translate(1749.33 3239.3) scale(1.1 1)" text-anchor="middle" font-size="19.5">1.4</text>
<line x1="1813.62" y1="3208.4" x2="1813.62" y2="3202.4" stroke="#111" stroke-width="2"/>
<line x1="1813.62" y1="2621.6" x2="1813.62" y2="2627.6" stroke="#111" stroke-width="2"/>
<text transform="translate(1813.62 3239.3) scale(1.1 1)" text-anchor="middle" font-size="19.5">1.6</text>
<line x1="1877.91" y1="3208.4" x2="1877.91" y2="3202.4" stroke="#111" stroke-width="2"/>
<line x1="1877.91" y1="2621.6" x2="1877.91" y2="2627.6" stroke="#111" stroke-width="2"/>
<text transform="translate(1877.91 3239.3) scale(1.1 1)" text-anchor="middle" font-size="19.5">1.8</text>
<line x1="1942.2" y1="3208.4" x2="1942.2" y2="3202.4" stroke="#111" stroke-width="2"/>
<line x1="1942.2" y1="2621.6" x2="1942.2" y2="2627.6" stroke="#111" stroke-width="2"/>
<text transform="translate(1942.2 3239.3) scale(1.1 1)" text-anchor="middle" font-size="19.5">2.0</text>
<line x1="2006.49" y1="3208.4" x2="2006.49" y2="3202.4" stroke="#111" stroke-width="2"/>
<line x1="2006.49" y1="2621.6" x2="2006.49" y2="2627.6" stroke="#111" stroke-width="2"/>
<text transform="translate(2006.49 3239.3) scale(1.1 1)" text-anchor="middle" font-size="19.5">2.2</text>
<line x1="2070.78" y1="3208.4" x2="2070.78" y2="3202.4" stroke="#111" stroke-width="2"/>
<line x1="2070.78" y1="2621.6" x2="2070.78" y2="2627.6" stroke="#111" stroke-width="2"/>
<text transform="translate(2070.78 3239.3) scale(1.1 1)" text-anchor="middle" font-size="19.5">2.4</text>
<line x1="2135.07" y1="3208.4" x2="2135.07" y2="3202.4" stroke="#111" stroke-width="2"/>
<line x1="2135.07" y1="2621.6" x2="2135.07" y2="2627.6" stroke="#111" stroke-width="2"/>
<text transform="translate(2135.07 3239.3) scale(1.1 1)" text-anchor="middle" font-size="19.5">2.6</text>
<line x1="2199.36" y1="3208.4" x2="2199.36" y2="3202.4" stroke="#111" stroke-width="2"/>
<line x1="2199.36" y1="2621.6" x2="2199.36" y2="2627.6" stroke="#111" stroke-width="2"/>
<text transform="translate(2199.36 3239.3) scale(1.1 1)" text-anchor="middle" font-size="19.5">2.8</text>
<text x="1316.9" y="2664.4" font-size="43.4" text-anchor="start">Sector 6</text>
<text x="1317.2" y="2693.9" font-size="19.93" text-anchor="start">Mean = 0.788; StdDv = 0.763; Max = 2.43; Min = 0.12</text>
<text x="1212.1" y="2910" transform="rotate(-90 1258.6 2910)" font-size="21" textLength="93" lengthAdjust="spacingAndGlyphs">No of obs</text>
<text transform="translate(1766 3276.5) scale(1 1)" text-anchor="middle" font-size="20">Volume (m <tspan font-size="12.5" dy="-9">3</tspan><tspan dy="9">)</tspan></text>
<path d="M2065.9 2789 L2065.9 2642.6 A146.4 146.4 0 1 1 1992.7 2915.79 Z" fill="#d8d8d8"/>
<path d="M2065.9 2789 L1992.7 2915.79 A146.4 146.4 0 0 1 1919.5 2789 Z" fill="#d5e043"/>
<path d="M2065.9 2789 L1919.5 2789 A146.4 146.4 0 0 1 2065.9 2642.6 Z" fill="#2525fb"/>
<text x="2147.3" y="2811.1" text-anchor="middle" font-size="30.8" font-weight="bold" fill="#404040">58%</text>
<text x="1997" y="2835.7" text-anchor="middle" font-size="30.8" font-weight="bold" fill="#404040">17%</text>
<text x="2013.2" y="2738.8" text-anchor="middle" font-size="30.8" font-weight="bold" fill="#404040">25%</text>
<rect x="1942.84" y="2957.1" width="12.6" height="12.6" fill="#d8d8d8"/>
<text x="1958.04" y="2969.6" font-size="17.4" font-weight="bold" fill="#555555">&lt;0.5</text>
<rect x="2002.89" y="2957.1" width="12.6" height="12.6" fill="#d5e043"/>
<text x="2018.09" y="2969.6" font-size="17.4" font-weight="bold" fill="#555555">0.5-1</text>
<rect x="2068.25" y="2957.1" width="12.6" height="12.6" fill="#2525fb"/>
<text x="2083.45" y="2969.6" font-size="17.4" font-weight="bold" fill="#555555">1-2.5</text>
<rect x="2133.61" y="2957.1" width="12.6" height="12.6" fill="#e01318"/>
<text x="2148.81" y="2969.6" font-size="17.4" font-weight="bold" fill="#555555">&gt;2.5</text>
<text x="2067" y="2999.2" text-anchor="middle" font-size="19.2" fill="#555555">Block volume (m<tspan font-size="11" dy="-8">3</tspan><tspan dy="8">)</tspan></text>
</g>
</svg>
</body></html>
